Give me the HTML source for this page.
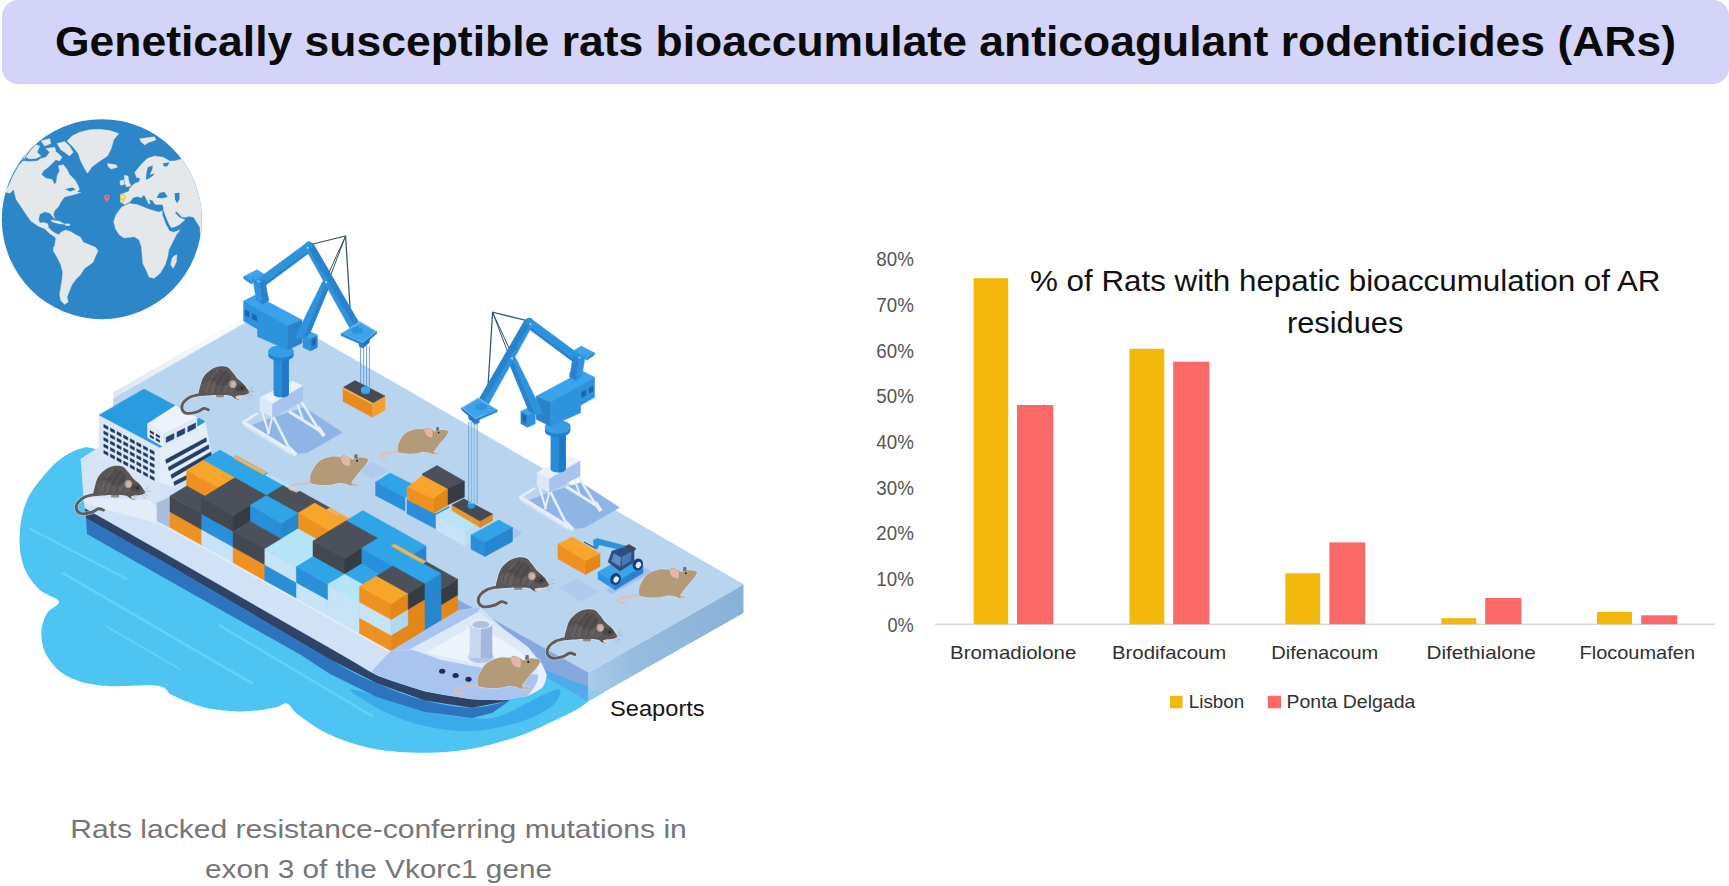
<!DOCTYPE html>
<html><head><meta charset="utf-8"><title>Graphical abstract</title>
<style>
html,body{margin:0;padding:0;background:#fff;}
body{width:1729px;height:886px;overflow:hidden;font-family:"Liberation Sans",sans-serif;}
svg{display:block;font-family:"Liberation Sans",sans-serif;}
</style></head><body>
<svg width="1729" height="886" viewBox="0 0 1729 886">
<rect x="2" y="0" width="1727" height="84" rx="16" ry="16" fill="#d3d4f7"/>
<text x="55.0" y="56.0" font-size="42.5" fill="#0a0a0a" font-weight="bold" text-anchor="start" textLength="1621.0" lengthAdjust="spacingAndGlyphs" >Genetically susceptible rats bioaccumulate anticoagulant rodenticides (ARs)</text>
<g>
<circle cx="101.8" cy="219.2" r="100" fill="#2c86c8"/>
<clipPath id="gc"><circle cx="101.8" cy="219.2" r="100"/></clipPath>
<g clip-path="url(#gc)"><g transform="translate(0,110) scale(0.24832)" fill="#e4e8ea" stroke="#e4e8ea" stroke-width="1.6" stroke-linejoin="round">
<polygon points="20.0,330.0 35.0,305.0 50.0,270.0 75.0,225.0 92.0,205.0 120.0,207.6 150.0,205.0 165.0,195.0 185.0,190.0 200.0,170.0 220.0,165.0 235.0,175.0 250.0,190.0 240.0,205.0 225.0,200.0 210.0,215.0 195.0,230.0 175.0,245.0 167.0,260.0 185.0,275.0 210.0,280.0 220.0,300.0 227.0,290.0 230.0,265.0 240.0,245.0 235.0,225.0 255.0,220.0 270.0,240.0 280.0,260.0 300.0,280.0 312.0,300.0 320.0,320.0 310.0,330.0 325.0,332.0 300.0,340.0 280.0,345.0 260.0,350.0 245.0,370.0 235.0,390.0 220.0,405.0 215.0,420.0 222.0,440.0 200.0,415.0 180.0,410.0 160.0,420.0 155.0,440.0 160.0,455.0 175.0,453.0 192.5,457.8 195.0,472.8 210.0,487.8 225.0,497.8 238.0,503.0 225.0,517.8 220.0,510.3 200.0,497.8 180.0,477.8 155.0,467.8 125.0,447.8 105.0,420.0 85.0,390.0 65.0,360.0 55.0,320.0 40.0,335.0"/>
<polygon points="105.0,190.0 125.0,160.0 145.0,140.0 160.0,145.0 150.0,170.0 165.0,185.0 145.0,195.0 120.0,197.0"/>
<polygon points="165.0,125.0 200.0,115.0 205.0,135.0 180.0,145.0"/>
<polygon points="185.0,155.0 220.0,150.0 225.0,165.0 200.0,170.0"/>
<polygon points="230.0,135.0 260.0,127.0 280.0,145.0 295.0,170.0 280.0,185.0 260.0,170.0 245.0,160.0"/>
<polygon points="95.0,200.0 112.0,170.0 122.0,150.0 105.0,170.0"/>
<polygon points="270.0,125.0 290.0,105.0 320.0,90.0 360.0,80.0 400.0,77.6 443.0,82.6 478.0,95.0 458.0,120.0 448.0,155.0 433.0,185.0 403.0,205.0 395.0,210.0 370.0,230.0 352.0,255.0 340.0,235.0 325.0,205.0 315.0,175.0 295.0,150.0"/>
<polygon points="432.7,215.5 467.7,220.5 472.7,230.5 447.7,238.0 435.2,228.0"/>
<polygon points="562.7,115.5 622.7,108.0 627.7,120.5 597.7,130.5 582.7,140.5 567.7,128.0"/>
<polygon points="205.0,442.8 240.0,447.8 260.0,460.3 235.0,457.8 210.0,450.3"/>
<polygon points="262.0,458.0 282.0,459.0 280.0,466.0 264.0,465.0"/>
<polygon points="220.0,547.8 225.0,517.8 245.0,492.8 265.0,482.8 285.0,490.3 305.0,502.8 325.0,512.8 335.0,532.8 360.0,542.8 385.0,552.8 395.0,567.8 385.0,587.8 375.0,612.8 355.0,627.8 340.0,637.8 325.0,662.8 305.0,682.8 290.0,702.8 280.0,727.8 270.0,752.8 275.0,772.8 260.0,782.8 245.0,767.8 240.0,742.8 245.0,712.8 250.0,682.8 252.5,652.8 245.0,622.8 230.0,592.8 215.0,567.8 215.0,552.8"/>
<polygon points="457.7,450.5 467.7,420.5 490.2,390.5 522.7,375.5 552.7,380.5 577.7,390.5 602.7,400.5 637.7,410.5 657.7,405.5 652.7,420.5 667.7,460.5 682.7,487.0 700.0,492.0 725.0,482.8 710.0,502.8 695.0,532.8 680.0,562.8 675.0,592.8 665.0,622.8 645.0,657.8 620.0,677.8 600.0,672.8 590.0,647.8 575.0,617.8 572.5,587.8 570.0,552.8 560.0,522.8 540.0,510.3 500.0,515.3 480.0,502.8 465.0,477.8"/>
<polygon points="700.0,587.8 712.5,582.8 710.0,612.8 697.5,637.8 687.5,622.8 692.5,597.8"/>
<polygon points="485.2,370.5 485.2,340.5 517.7,328.0 522.7,315.5 532.0,305.0 542.7,295.5 560.0,290.0 565.0,275.0 550.0,272.0 542.7,250.5 567.7,220.5 592.7,195.5 622.7,185.5 657.7,190.5 682.7,205.5 702.7,205.5 727.7,198.0 800.0,180.0 850.0,300.0 850.0,520.0 808.0,512.0 805.0,472.0 780.0,432.0 760.0,428.0 747.7,432.0 732.7,430.5 727.0,428.0 710.0,411.0 705.0,414.0 722.0,432.0 745.0,442.0 722.0,462.0 705.0,470.0 690.0,474.0 677.7,460.5 662.7,420.5 657.7,405.5 657.7,390.5 652.7,380.5 640.2,380.5 627.7,383.0 620.2,375.5 612.7,363.0 600.2,360.5 605.2,375.5 600.2,380.5 590.2,360.5 582.7,345.5 575.2,343.0 570.2,353.0 552.7,348.0 535.2,353.0 525.2,368.0 502.7,380.5"/>
<polygon points="500.2,263.0 515.2,265.5 520.2,290.5 527.7,305.5 510.2,310.5 502.7,295.5"/>
<polygon points="482.7,285.5 497.7,280.5 500.2,300.5 485.2,303.0"/>
</g>
<g transform="translate(0,110) scale(0.24832)" fill="#2c86c8">
<polygon points="595.2,230.5 615.2,223.0 612.7,240.5 602.7,260.5 622.7,255.5 617.7,263.0 600.2,275.5 587.7,280.5 590.2,250.5"/>
<polygon points="655.2,215.5 682.7,210.5 672.7,228.0 660.2,228.0"/>
<polygon points="630.2,353.0 642.7,333.0 662.7,330.5 675.2,350.5 652.7,355.5"/>
<polygon points="702.7,335.5 722.7,333.0 722.7,360.5 712.7,375.5 705.2,360.5"/>
<polygon points="522.0,373.0 540.0,356.0 556.0,352.0 572.0,357.0 580.0,349.0 590.0,365.0 600.0,385.0 607.0,379.0 603.0,364.0 614.0,366.0 622.0,380.0 640.0,385.0 655.0,385.0 658.0,400.0 640.0,408.0 602.0,398.0 578.0,388.0 552.0,378.0 530.0,377.0"/>
<path d="M656 406 L664 430 L678 462 L692 486" stroke="#2c86c8" stroke-width="6" fill="none"/>
<path d="M708 411 L728 431" stroke="#2c86c8" stroke-width="5" fill="none"/>
<polygon points="262.0,318.0 292.0,312.0 305.0,320.0 282.0,328.0"/>
</g></g>
<circle cx="106.8" cy="197.1" r="2.7" fill="#ee6f7d"/><path d="M104.6 198.6 L109 198.6 L106.8 203Z" fill="#ee6f7d"/><circle cx="106.8" cy="197" r="1.1" fill="#2c86c8"/>
<circle cx="123" cy="197.1" r="3.1" fill="#f1d24e"/><path d="M120.6 198.8 L125.4 198.8 L123 203.6Z" fill="#f1d24e"/><circle cx="123" cy="197" r="1.3" fill="#f7edc0"/>
</g>
<g id="port">
<path d="M86.0 447.0 C83.3 448.0 75.8 449.6 70.0 453.0 C64.2 456.4 58.2 459.8 51.1 467.5 C44.0 475.2 32.7 487.9 27.5 499.0 C22.3 510.1 20.3 523.2 19.7 534.4 C19.1 545.5 20.3 556.7 23.6 565.9 C26.9 575.1 33.4 583.6 39.3 589.5 C45.2 595.4 57.7 597.4 59.0 601.3 C60.3 605.2 50.2 607.8 47.2 613.0 C44.2 618.2 41.3 625.5 41.3 632.7 C41.3 639.9 42.9 649.1 47.2 656.3 C51.5 663.5 57.7 671.1 66.9 676.0 C76.1 680.9 87.2 684.2 102.3 685.8 C117.4 687.4 145.5 684.2 157.3 685.8 C169.1 687.4 165.1 692.0 173.0 695.6 C180.9 699.2 192.7 704.8 204.5 707.4 C216.3 710.0 232.0 711.4 243.8 711.4 C255.6 711.4 268.1 708.7 275.3 707.4 C282.5 706.1 283.2 702.2 287.1 703.5 C291.0 704.8 291.7 710.0 298.9 715.3 C306.1 720.5 317.9 729.4 330.4 735.0 C342.8 740.6 357.9 745.8 373.6 748.7 C389.3 751.7 408.4 752.7 424.8 752.7 C441.2 752.7 456.3 751.5 472.0 748.7 C487.7 745.9 504.3 741.2 519.2 736.0 C534.1 730.8 551.5 721.7 561.2 717.2 C570.9 712.7 573.0 711.6 577.5 709.0 C582.0 706.4 586.5 702.8 588.3 701.5 L588.3 660 L420 560 L200 470 Z" fill="#4dc4f2"/>
<defs><linearGradient id="pr" x1="587" y1="0" x2="745" y2="0" gradientUnits="userSpaceOnUse"><stop offset="0" stop-color="#abcbea"/><stop offset="0.3" stop-color="#97bce0"/><stop offset="1" stop-color="#89b0d6"/></linearGradient></defs>
<polygon points="430.0,582.0 588.3,672.5 588.3,701.0 430.0,610.5" fill="#86a8de" stroke="#86a8de" stroke-width="0.5" stroke-linejoin="round" />
<polygon points="536.0,667.0 588.3,687.0 588.3,701.0 538.0,672.5" fill="#45aeea" stroke="#45aeea" stroke-width="0.5" stroke-linejoin="round" opacity="0.85"/>
<polygon points="743.5,584.5 743.5,613.0 588.3,701.0 588.3,672.5" fill="url(#pr)" />
<polygon points="588.3,690.0 588.3,701.0 604.0,692.2" fill="#8ecbef" stroke="#8ecbef" stroke-width="0.5" stroke-linejoin="round" />
<defs><linearGradient id="pb" x1="113" y1="0" x2="215" y2="0" gradientUnits="userSpaceOnUse"><stop offset="0" stop-color="#dde6f1"/><stop offset="1" stop-color="#f7fafd"/></linearGradient></defs>
<polygon points="113.5,399.2 268.0,310.4 268.0,303.4 113.5,392.2" fill="url(#pb)" />
<polygon points="113.5,398.6 268.0,309.8 743.5,584.5 588.3,672.5 113.5,406.0" fill="#b9d4ef" stroke="#b9d4ef" stroke-width="0.5" stroke-linejoin="round" />
<polygon points="250.0,426.0 294.0,454.0 307.5,452.5 342.5,432.5 304.0,407.5 272.0,418.0" fill="#8fb4e6" stroke="#8fb4e6" stroke-width="0.5" stroke-linejoin="round" />
<polygon points="527.0,501.0 571.0,529.0 584.5,527.5 619.5,507.5 581.0,482.5 549.0,493.0" fill="#8fb4e6" stroke="#8fb4e6" stroke-width="0.5" stroke-linejoin="round" />
<polygon points="559.0,588.0 577.0,579.0 598.0,592.0 581.0,601.5" fill="#afcbec" stroke="#afcbec" stroke-width="0.5" stroke-linejoin="round" />
<polygon points="356.0,470.0 372.0,462.0 388.0,471.0 372.0,479.0" fill="#b1cbed" stroke="#b1cbed" stroke-width="0.5" stroke-linejoin="round" />
<path d="M377.0 696.0 C389.5 699.6 409.2 707.9 425.0 711.6 C440.8 715.3 459.5 717.3 472.0 718.0 C484.5 718.7 487.8 720.0 500.0 716.0 C512.2 712.0 535.0 698.3 545.0 694.0 C555.0 689.7 558.8 688.0 560.0 690.0 C561.2 692.0 558.7 700.7 552.0 706.0 C545.3 711.3 533.3 717.8 520.0 722.0 C506.7 726.2 487.8 730.3 472.0 731.0 C456.2 731.7 439.5 729.2 425.0 726.0 C410.5 722.8 397.5 718.0 385.0 712.0 C372.5 706.0 351.3 692.7 350.0 690.0 C348.7 687.3 364.5 692.4 377.0 696.0Z" fill="#38a9e9" opacity="0.9"/>
<line x1="30" y1="528.7" x2="126.6" y2="579" stroke="#66d6f9" stroke-width="2.2" stroke-linecap="round" opacity="0.85"/>
<line x1="63.3" y1="573.4" x2="251.7" y2="683.2" stroke="#66d6f9" stroke-width="2.6" stroke-linecap="round" opacity="0.85"/>
<line x1="108" y1="627.4" x2="180" y2="669" stroke="#66d6f9" stroke-width="2.0" stroke-linecap="round" opacity="0.85"/>
<line x1="219.7" y1="625.5" x2="372" y2="716" stroke="#66d6f9" stroke-width="2.4" stroke-linecap="round" opacity="0.85"/>
<line x1="150" y1="545" x2="200" y2="571" stroke="#66d6f9" stroke-width="1.6" stroke-linecap="round" opacity="0.85"/>
<path d="M86.0 518.0 C98.3 525.0 119.3 536.2 160.0 559.8 C200.7 583.4 293.8 638.9 330.0 659.5 C366.2 680.1 361.6 676.6 377.4 683.5 C393.2 690.4 409.0 696.6 424.8 700.6 C440.6 704.6 457.8 707.7 472.0 707.7 C486.2 707.7 503.7 701.8 510.0 700.6 L510.0 700.6 L492.0 713.0 L472.0 718.0 L425.0 712.0 L377.0 697.0 L330.0 674.0 L301.0 655.0 L160.0 575.5 L87.0 534.0 Z" fill="#2d73bd"/>
<path d="M85.0 508.0 C97.5 515.1 118.3 526.8 160.0 550.6 C201.7 574.4 298.8 630.0 335.0 650.8 C371.2 671.5 362.4 668.6 377.4 675.3 C392.4 682.0 409.0 687.0 424.8 691.0 C440.6 695.0 458.8 697.5 472.0 699.0 C485.2 700.5 498.5 699.7 503.8 699.8 L510.0 700.6 L472.0 707.7 L424.8 700.6 L377.4 683.5 L330.0 659.5 L160.0 559.8 L86.0 518.0 Z" fill="#2f4268"/>
<polygon points="81.0,459.0 99.0,447.5 236.0,487.0 457.5,610.7 480.0,607.5 503.8,629.5 527.5,646.9 541.7,664.0 546.4,675.3 541.7,688.0 527.5,695.8 503.8,699.8 503.8,699.8 472.0,699.0 424.8,691.0 377.4,675.3 335.0,650.8 160.0,550.6 85.0,508.0" fill="#d2e2f6" stroke="#d2e2f6" stroke-width="0.5" stroke-linejoin="round" />
<polygon points="84.0,497.0 150.0,500.0 170.0,527.5 391.0,651.0 412.0,650.0 400.0,658.0 160.0,524.0 84.0,503.0" fill="#e3edfa" stroke="#e3edfa" stroke-width="0.5" stroke-linejoin="round" />
<polygon points="81.0,459.0 99.0,447.5 99.0,458.0 160.0,481.0 160.0,500.0 84.0,497.0" fill="#d7e4f6" stroke="#d7e4f6" stroke-width="0.5" stroke-linejoin="round" />
<polygon points="157.0,503.0 170.0,497.0 170.0,527.5 157.0,521.0" fill="#a9bedc" stroke="#a9bedc" stroke-width="0.5" stroke-linejoin="round" />
<polygon points="99.0,415.0 160.0,447.5 160.0,483.0 99.0,458.0" fill="#dbe7f7" stroke="#dbe7f7" stroke-width="0.5" stroke-linejoin="round" />
<polygon points="160.0,447.5 205.0,421.5 211.0,452.0 176.0,487.0 160.0,483.0" fill="#e4edfa" stroke="#e4edfa" stroke-width="0.5" stroke-linejoin="round" />
<polygon points="165.5,459.8 206.1,437.7 206.7,441.3 166.4,463.4" fill="#243f66" stroke="#243f66" stroke-width="0.5" stroke-linejoin="round" />
<polygon points="168.2,467.2 208.5,444.8 209.1,448.4 169.1,470.8" fill="#243f66" stroke="#243f66" stroke-width="0.5" stroke-linejoin="round" />
<polygon points="170.9,474.8 210.9,451.9 211.5,455.5 171.8,478.4" fill="#243f66" stroke="#243f66" stroke-width="0.5" stroke-linejoin="round" />
<polygon points="173.7,481.9 196.0,470.5 196.6,474.1 174.6,485.5" fill="#243f66" stroke="#243f66" stroke-width="0.5" stroke-linejoin="round" />
<polygon points="103.8,424.5 108.0,426.7 108.0,429.5 103.8,427.3" fill="#20395e" stroke="#20395e" stroke-width="0.5" stroke-linejoin="round" />
<polygon points="110.4,428.1 114.6,430.2 114.6,433.1 110.4,430.9" fill="#20395e" stroke="#20395e" stroke-width="0.5" stroke-linejoin="round" />
<polygon points="117.0,431.6 121.2,433.8 121.2,436.6 117.0,434.4" fill="#20395e" stroke="#20395e" stroke-width="0.5" stroke-linejoin="round" />
<polygon points="123.6,435.1 127.8,437.3 127.8,440.1 123.6,437.9" fill="#20395e" stroke="#20395e" stroke-width="0.5" stroke-linejoin="round" />
<polygon points="130.2,438.7 134.4,440.9 134.4,443.7 130.2,441.5" fill="#20395e" stroke="#20395e" stroke-width="0.5" stroke-linejoin="round" />
<polygon points="136.8,442.2 141.0,444.4 141.0,447.2 136.8,445.1" fill="#20395e" stroke="#20395e" stroke-width="0.5" stroke-linejoin="round" />
<polygon points="143.4,445.8 147.6,448.0 147.6,450.8 143.4,448.6" fill="#20395e" stroke="#20395e" stroke-width="0.5" stroke-linejoin="round" />
<polygon points="150.0,449.4 154.2,451.6 154.2,454.4 150.0,452.2" fill="#20395e" stroke="#20395e" stroke-width="0.5" stroke-linejoin="round" />
<polygon points="103.8,431.0 108.0,433.2 108.0,436.0 103.8,433.8" fill="#20395e" stroke="#20395e" stroke-width="0.5" stroke-linejoin="round" />
<polygon points="110.4,434.6 114.6,436.8 114.6,439.6 110.4,437.4" fill="#20395e" stroke="#20395e" stroke-width="0.5" stroke-linejoin="round" />
<polygon points="117.0,438.1 121.2,440.3 121.2,443.1 117.0,440.9" fill="#20395e" stroke="#20395e" stroke-width="0.5" stroke-linejoin="round" />
<polygon points="123.6,441.6 127.8,443.8 127.8,446.6 123.6,444.4" fill="#20395e" stroke="#20395e" stroke-width="0.5" stroke-linejoin="round" />
<polygon points="130.2,445.2 134.4,447.4 134.4,450.2 130.2,448.0" fill="#20395e" stroke="#20395e" stroke-width="0.5" stroke-linejoin="round" />
<polygon points="136.8,448.8 141.0,450.9 141.0,453.8 136.8,451.6" fill="#20395e" stroke="#20395e" stroke-width="0.5" stroke-linejoin="round" />
<polygon points="143.4,452.3 147.6,454.5 147.6,457.3 143.4,455.1" fill="#20395e" stroke="#20395e" stroke-width="0.5" stroke-linejoin="round" />
<polygon points="150.0,455.9 154.2,458.1 154.2,460.9 150.0,458.7" fill="#20395e" stroke="#20395e" stroke-width="0.5" stroke-linejoin="round" />
<polygon points="103.8,437.5 108.0,439.7 108.0,442.5 103.8,440.3" fill="#20395e" stroke="#20395e" stroke-width="0.5" stroke-linejoin="round" />
<polygon points="110.4,441.1 114.6,443.2 114.6,446.1 110.4,443.9" fill="#20395e" stroke="#20395e" stroke-width="0.5" stroke-linejoin="round" />
<polygon points="117.0,444.6 121.2,446.8 121.2,449.6 117.0,447.4" fill="#20395e" stroke="#20395e" stroke-width="0.5" stroke-linejoin="round" />
<polygon points="123.6,448.1 127.8,450.3 127.8,453.1 123.6,450.9" fill="#20395e" stroke="#20395e" stroke-width="0.5" stroke-linejoin="round" />
<polygon points="130.2,451.7 134.4,453.9 134.4,456.7 130.2,454.5" fill="#20395e" stroke="#20395e" stroke-width="0.5" stroke-linejoin="round" />
<polygon points="136.8,455.2 141.0,457.4 141.0,460.2 136.8,458.1" fill="#20395e" stroke="#20395e" stroke-width="0.5" stroke-linejoin="round" />
<polygon points="143.4,458.8 147.6,461.0 147.6,463.8 143.4,461.6" fill="#20395e" stroke="#20395e" stroke-width="0.5" stroke-linejoin="round" />
<polygon points="150.0,462.4 154.2,464.6 154.2,467.4 150.0,465.2" fill="#20395e" stroke="#20395e" stroke-width="0.5" stroke-linejoin="round" />
<polygon points="103.8,444.0 108.0,446.2 108.0,449.0 103.8,446.8" fill="#20395e" stroke="#20395e" stroke-width="0.5" stroke-linejoin="round" />
<polygon points="110.4,447.6 114.6,449.8 114.6,452.6 110.4,450.4" fill="#20395e" stroke="#20395e" stroke-width="0.5" stroke-linejoin="round" />
<polygon points="117.0,451.1 121.2,453.3 121.2,456.1 117.0,453.9" fill="#20395e" stroke="#20395e" stroke-width="0.5" stroke-linejoin="round" />
<polygon points="123.6,454.6 127.8,456.8 127.8,459.6 123.6,457.4" fill="#20395e" stroke="#20395e" stroke-width="0.5" stroke-linejoin="round" />
<polygon points="130.2,458.2 134.4,460.4 134.4,463.2 130.2,461.0" fill="#20395e" stroke="#20395e" stroke-width="0.5" stroke-linejoin="round" />
<polygon points="136.8,461.8 141.0,463.9 141.0,466.8 136.8,464.6" fill="#20395e" stroke="#20395e" stroke-width="0.5" stroke-linejoin="round" />
<polygon points="143.4,465.3 147.6,467.5 147.6,470.3 143.4,468.1" fill="#20395e" stroke="#20395e" stroke-width="0.5" stroke-linejoin="round" />
<polygon points="150.0,468.9 154.2,471.1 154.2,473.9 150.0,471.7" fill="#20395e" stroke="#20395e" stroke-width="0.5" stroke-linejoin="round" />
<polygon points="103.8,450.5 108.0,452.7 108.0,455.5 103.8,453.3" fill="#20395e" stroke="#20395e" stroke-width="0.5" stroke-linejoin="round" />
<polygon points="110.4,454.1 114.6,456.2 114.6,459.1 110.4,456.9" fill="#20395e" stroke="#20395e" stroke-width="0.5" stroke-linejoin="round" />
<polygon points="117.0,457.6 121.2,459.8 121.2,462.6 117.0,460.4" fill="#20395e" stroke="#20395e" stroke-width="0.5" stroke-linejoin="round" />
<polygon points="123.6,461.1 127.8,463.3 127.8,466.1 123.6,463.9" fill="#20395e" stroke="#20395e" stroke-width="0.5" stroke-linejoin="round" />
<polygon points="130.2,464.7 134.4,466.9 134.4,469.7 130.2,467.5" fill="#20395e" stroke="#20395e" stroke-width="0.5" stroke-linejoin="round" />
<polygon points="136.8,468.2 141.0,470.4 141.0,473.2 136.8,471.1" fill="#20395e" stroke="#20395e" stroke-width="0.5" stroke-linejoin="round" />
<polygon points="143.4,471.8 147.6,474.0 147.6,476.8 143.4,474.6" fill="#20395e" stroke="#20395e" stroke-width="0.5" stroke-linejoin="round" />
<polygon points="150.0,475.4 154.2,477.6 154.2,480.4 150.0,478.2" fill="#20395e" stroke="#20395e" stroke-width="0.5" stroke-linejoin="round" />
<polygon points="99.0,415.0 144.0,389.0 205.0,421.5 160.0,447.5" fill="#2b9be0" stroke="#2b9be0" stroke-width="0.5" stroke-linejoin="round" />
<polygon points="147.5,423.8 175.6,405.6 197.5,417.5 164.4,433.8" fill="#edf3fb" stroke="#edf3fb" stroke-width="0.5" stroke-linejoin="round" />
<polygon points="147.5,423.8 164.4,433.8 164.4,447.5 147.5,437.5" fill="#e6eef9" stroke="#e6eef9" stroke-width="0.5" stroke-linejoin="round" />
<polygon points="164.4,433.8 197.5,417.5 197.5,431.0 164.4,447.5" fill="#dfe9f7" stroke="#dfe9f7" stroke-width="0.5" stroke-linejoin="round" />
<polygon points="166.2,437.3 174.0,433.5 174.0,438.7 166.2,442.5" fill="#27436f" stroke="#27436f" stroke-width="0.5" stroke-linejoin="round" />
<polygon points="177.0,432.0 184.8,428.2 184.8,433.4 177.0,437.2" fill="#27436f" stroke="#27436f" stroke-width="0.5" stroke-linejoin="round" />
<polygon points="187.8,426.7 195.6,422.9 195.6,428.1 187.8,431.9" fill="#27436f" stroke="#27436f" stroke-width="0.5" stroke-linejoin="round" />
<polygon points="150.0,430.5 153.6,432.5 153.6,434.5 150.0,432.5" fill="#20395e" stroke="#20395e" stroke-width="0.5" stroke-linejoin="round" />
<polygon points="156.0,433.9 159.6,435.9 159.6,437.9 156.0,435.9" fill="#20395e" stroke="#20395e" stroke-width="0.5" stroke-linejoin="round" />
<polygon points="150.0,434.9 153.6,436.9 153.6,438.9 150.0,436.9" fill="#20395e" stroke="#20395e" stroke-width="0.5" stroke-linejoin="round" />
<polygon points="156.0,438.3 159.6,440.3 159.6,442.3 156.0,440.3" fill="#20395e" stroke="#20395e" stroke-width="0.5" stroke-linejoin="round" />
<polygon points="197.5,419.0 204.0,422.5 197.5,426.0" fill="#2b9be0" stroke="#2b9be0" stroke-width="0.5" stroke-linejoin="round" />
<polygon points="219.8,497.2 251.4,514.9 251.4,499.2 219.8,481.5" fill="#2a8fd9" stroke="#2a8fd9" stroke-width="0.5" stroke-linejoin="round" />
<polygon points="251.4,514.9 268.0,504.8 268.0,489.1 251.4,499.2" fill="#2687cf" stroke="#2687cf" stroke-width="0.5" stroke-linejoin="round" />
<polygon points="219.8,481.5 251.4,499.1 251.4,483.4 219.8,465.8" fill="#2a8fd9" stroke="#2a8fd9" stroke-width="0.5" stroke-linejoin="round" />
<polygon points="251.4,499.1 268.0,489.0 268.0,473.3 251.4,483.4" fill="#2687cf" stroke="#2687cf" stroke-width="0.5" stroke-linejoin="round" />
<polygon points="219.8,465.8 251.4,483.4 268.0,473.3 236.4,455.7" fill="#2fa5e7" stroke="#2fa5e7" stroke-width="0.5" stroke-linejoin="round" />
<polygon points="251.4,514.9 283.0,532.5 283.0,516.8 251.4,499.2" fill="#2a8fd9" stroke="#2a8fd9" stroke-width="0.5" stroke-linejoin="round" />
<polygon points="283.0,532.5 299.6,522.4 299.6,506.7 283.0,516.8" fill="#2687cf" stroke="#2687cf" stroke-width="0.5" stroke-linejoin="round" />
<polygon points="251.4,499.2 283.0,516.8 283.0,501.1 251.4,483.5" fill="#c6e3f7" stroke="#c6e3f7" stroke-width="0.5" stroke-linejoin="round" />
<polygon points="283.0,516.8 299.6,506.7 299.6,491.0 283.0,501.1" fill="#b3d9f2" stroke="#b3d9f2" stroke-width="0.5" stroke-linejoin="round" />
<polygon points="251.4,483.5 283.0,501.1 299.6,491.0 268.0,473.4" fill="#b6e4f8" stroke="#b6e4f8" stroke-width="0.5" stroke-linejoin="round" />
<polygon points="283.0,532.5 314.6,550.1 314.6,534.4 283.0,516.8" fill="#c6e3f7" stroke="#c6e3f7" stroke-width="0.5" stroke-linejoin="round" />
<polygon points="314.6,550.1 331.2,540.0 331.2,524.3 314.6,534.4" fill="#b3d9f2" stroke="#b3d9f2" stroke-width="0.5" stroke-linejoin="round" />
<polygon points="283.0,516.8 314.6,534.4 314.6,518.7 283.0,501.1" fill="#434750" stroke="#434750" stroke-width="0.5" stroke-linejoin="round" />
<polygon points="314.6,534.4 331.2,524.3 331.2,508.6 314.6,518.7" fill="#373b44" stroke="#373b44" stroke-width="0.5" stroke-linejoin="round" />
<polygon points="283.0,501.1 314.6,518.7 331.2,508.6 299.6,491.0" fill="#4b505a" stroke="#4b505a" stroke-width="0.5" stroke-linejoin="round" />
<polygon points="314.6,550.2 346.2,567.8 346.2,552.1 314.6,534.5" fill="#2a8fd9" stroke="#2a8fd9" stroke-width="0.5" stroke-linejoin="round" />
<polygon points="346.2,567.8 362.8,557.7 362.8,542.0 346.2,552.1" fill="#2687cf" stroke="#2687cf" stroke-width="0.5" stroke-linejoin="round" />
<polygon points="314.6,534.5 346.2,552.1 346.2,536.4 314.6,518.8" fill="#ee9120" stroke="#ee9120" stroke-width="0.5" stroke-linejoin="round" />
<polygon points="346.2,552.1 362.8,542.0 362.8,526.3 346.2,536.4" fill="#e28718" stroke="#e28718" stroke-width="0.5" stroke-linejoin="round" />
<polygon points="314.6,518.8 346.2,536.4 362.8,526.3 331.2,508.7" fill="#f8a52c" stroke="#f8a52c" stroke-width="0.5" stroke-linejoin="round" />
<polygon points="346.2,567.8 377.8,585.5 377.8,569.8 346.2,552.1" fill="#434750" stroke="#434750" stroke-width="0.5" stroke-linejoin="round" />
<polygon points="377.8,585.5 394.4,575.4 394.4,559.6 377.8,569.8" fill="#373b44" stroke="#373b44" stroke-width="0.5" stroke-linejoin="round" />
<polygon points="346.2,552.1 377.8,569.8 377.8,554.0 346.2,536.4" fill="#c6e3f7" stroke="#c6e3f7" stroke-width="0.5" stroke-linejoin="round" />
<polygon points="377.8,569.8 394.4,559.6 394.4,543.9 377.8,554.0" fill="#b3d9f2" stroke="#b3d9f2" stroke-width="0.5" stroke-linejoin="round" />
<polygon points="346.2,536.4 377.8,554.1 377.8,538.4 346.2,520.7" fill="#2a8fd9" stroke="#2a8fd9" stroke-width="0.5" stroke-linejoin="round" />
<polygon points="377.8,554.1 394.4,544.0 394.4,528.2 377.8,538.4" fill="#2687cf" stroke="#2687cf" stroke-width="0.5" stroke-linejoin="round" />
<polygon points="346.2,520.7 377.8,538.4 394.4,528.2 362.8,510.6" fill="#2fa5e7" stroke="#2fa5e7" stroke-width="0.5" stroke-linejoin="round" />
<polygon points="377.8,585.5 409.4,603.1 409.4,587.4 377.8,569.8" fill="#ee9120" stroke="#ee9120" stroke-width="0.5" stroke-linejoin="round" />
<polygon points="409.4,603.1 426.0,593.0 426.0,577.3 409.4,587.4" fill="#e28718" stroke="#e28718" stroke-width="0.5" stroke-linejoin="round" />
<polygon points="377.8,569.8 409.4,587.4 409.4,571.7 377.8,554.0" fill="#2a8fd9" stroke="#2a8fd9" stroke-width="0.5" stroke-linejoin="round" />
<polygon points="409.4,587.4 426.0,577.3 426.0,561.6 409.4,571.7" fill="#2687cf" stroke="#2687cf" stroke-width="0.5" stroke-linejoin="round" />
<polygon points="377.8,554.1 409.4,571.7 409.4,556.0 377.8,538.4" fill="#2a8fd9" stroke="#2a8fd9" stroke-width="0.5" stroke-linejoin="round" />
<polygon points="409.4,571.7 426.0,561.6 426.0,545.9 409.4,556.0" fill="#2687cf" stroke="#2687cf" stroke-width="0.5" stroke-linejoin="round" />
<polygon points="377.8,538.4 409.4,556.0 426.0,545.9 394.4,528.2" fill="#2fa5e7" stroke="#2fa5e7" stroke-width="0.5" stroke-linejoin="round" />
<polygon points="409.4,603.1 441.0,620.8 441.0,605.0 409.4,587.4" fill="#ee9120" stroke="#ee9120" stroke-width="0.5" stroke-linejoin="round" />
<polygon points="441.0,620.8 457.6,610.6 457.6,594.9 441.0,605.0" fill="#e28718" stroke="#e28718" stroke-width="0.5" stroke-linejoin="round" />
<polygon points="409.4,587.4 441.0,605.0 441.0,589.3 409.4,571.7" fill="#434750" stroke="#434750" stroke-width="0.5" stroke-linejoin="round" />
<polygon points="441.0,605.0 457.6,594.9 457.6,579.2 441.0,589.3" fill="#373b44" stroke="#373b44" stroke-width="0.5" stroke-linejoin="round" />
<polygon points="409.4,571.7 441.0,589.3 457.6,579.2 426.0,561.6" fill="#4b505a" stroke="#4b505a" stroke-width="0.5" stroke-linejoin="round" />
<polygon points="203.2,507.3 234.8,525.0 234.8,509.3 203.2,491.6" fill="#c6e3f7" stroke="#c6e3f7" stroke-width="0.5" stroke-linejoin="round" />
<polygon points="234.8,525.0 251.4,514.9 251.4,499.2 234.8,509.3" fill="#b3d9f2" stroke="#b3d9f2" stroke-width="0.5" stroke-linejoin="round" />
<polygon points="203.2,491.6 234.8,509.2 234.8,493.6 203.2,475.9" fill="#2a8fd9" stroke="#2a8fd9" stroke-width="0.5" stroke-linejoin="round" />
<polygon points="234.8,509.2 251.4,499.1 251.4,483.4 234.8,493.6" fill="#2687cf" stroke="#2687cf" stroke-width="0.5" stroke-linejoin="round" />
<polygon points="203.2,475.9 234.8,493.6 234.8,477.9 203.2,460.2" fill="#2a8fd9" stroke="#2a8fd9" stroke-width="0.5" stroke-linejoin="round" />
<polygon points="234.8,493.6 251.4,483.4 251.4,467.8 234.8,477.9" fill="#2687cf" stroke="#2687cf" stroke-width="0.5" stroke-linejoin="round" />
<polygon points="203.2,460.2 234.8,477.9 251.4,467.8 219.8,450.1" fill="#2fa5e7" stroke="#2fa5e7" stroke-width="0.5" stroke-linejoin="round" />
<polygon points="234.8,524.9 266.4,542.6 266.4,526.9 234.8,509.2" fill="#434750" stroke="#434750" stroke-width="0.5" stroke-linejoin="round" />
<polygon points="266.4,542.6 283.0,532.5 283.0,516.8 266.4,526.9" fill="#373b44" stroke="#373b44" stroke-width="0.5" stroke-linejoin="round" />
<polygon points="234.8,509.2 266.4,526.9 266.4,511.2 234.8,493.5" fill="#c6e3f7" stroke="#c6e3f7" stroke-width="0.5" stroke-linejoin="round" />
<polygon points="266.4,526.9 283.0,516.8 283.0,501.1 266.4,511.2" fill="#b3d9f2" stroke="#b3d9f2" stroke-width="0.5" stroke-linejoin="round" />
<polygon points="234.8,493.5 266.4,511.2 266.4,495.5 234.8,477.8" fill="#2a8fd9" stroke="#2a8fd9" stroke-width="0.5" stroke-linejoin="round" />
<polygon points="266.4,511.2 283.0,501.1 283.0,485.4 266.4,495.5" fill="#2687cf" stroke="#2687cf" stroke-width="0.5" stroke-linejoin="round" />
<polygon points="234.8,477.8 266.4,495.5 283.0,485.4 251.4,467.7" fill="#2fa5e7" stroke="#2fa5e7" stroke-width="0.5" stroke-linejoin="round" />
<polygon points="266.4,542.6 298.0,560.2 298.0,544.5 266.4,526.9" fill="#2a8fd9" stroke="#2a8fd9" stroke-width="0.5" stroke-linejoin="round" />
<polygon points="298.0,560.2 314.6,550.1 314.6,534.4 298.0,544.5" fill="#2687cf" stroke="#2687cf" stroke-width="0.5" stroke-linejoin="round" />
<polygon points="266.4,526.9 298.0,544.5 298.0,528.8 266.4,511.2" fill="#ee9120" stroke="#ee9120" stroke-width="0.5" stroke-linejoin="round" />
<polygon points="298.0,544.5 314.6,534.4 314.6,518.7 298.0,528.8" fill="#e28718" stroke="#e28718" stroke-width="0.5" stroke-linejoin="round" />
<polygon points="266.4,511.2 298.0,528.8 298.0,513.1 266.4,495.5" fill="#434750" stroke="#434750" stroke-width="0.5" stroke-linejoin="round" />
<polygon points="298.0,528.8 314.6,518.7 314.6,503.0 298.0,513.1" fill="#373b44" stroke="#373b44" stroke-width="0.5" stroke-linejoin="round" />
<polygon points="266.4,495.5 298.0,513.1 314.6,503.0 283.0,485.4" fill="#4b505a" stroke="#4b505a" stroke-width="0.5" stroke-linejoin="round" />
<polygon points="298.0,560.2 329.6,577.9 329.6,562.2 298.0,544.5" fill="#434750" stroke="#434750" stroke-width="0.5" stroke-linejoin="round" />
<polygon points="329.6,577.9 346.2,567.8 346.2,552.1 329.6,562.2" fill="#373b44" stroke="#373b44" stroke-width="0.5" stroke-linejoin="round" />
<polygon points="298.0,544.5 329.6,562.2 329.6,546.5 298.0,528.8" fill="#2a8fd9" stroke="#2a8fd9" stroke-width="0.5" stroke-linejoin="round" />
<polygon points="329.6,562.2 346.2,552.1 346.2,536.4 329.6,546.5" fill="#2687cf" stroke="#2687cf" stroke-width="0.5" stroke-linejoin="round" />
<polygon points="298.0,528.9 329.6,546.5 329.6,530.8 298.0,513.1" fill="#ee9120" stroke="#ee9120" stroke-width="0.5" stroke-linejoin="round" />
<polygon points="329.6,546.5 346.2,536.4 346.2,520.7 329.6,530.8" fill="#e28718" stroke="#e28718" stroke-width="0.5" stroke-linejoin="round" />
<polygon points="298.0,513.1 329.6,530.8 346.2,520.7 314.6,503.1" fill="#f8a52c" stroke="#f8a52c" stroke-width="0.5" stroke-linejoin="round" />
<polygon points="329.6,577.9 361.2,595.5 361.2,579.8 329.6,562.2" fill="#ee9120" stroke="#ee9120" stroke-width="0.5" stroke-linejoin="round" />
<polygon points="361.2,595.5 377.8,585.4 377.8,569.7 361.2,579.8" fill="#e28718" stroke="#e28718" stroke-width="0.5" stroke-linejoin="round" />
<polygon points="329.6,562.2 361.2,579.8 361.2,564.1 329.6,546.5" fill="#2a8fd9" stroke="#2a8fd9" stroke-width="0.5" stroke-linejoin="round" />
<polygon points="361.2,579.8 377.8,569.7 377.8,554.0 361.2,564.1" fill="#2687cf" stroke="#2687cf" stroke-width="0.5" stroke-linejoin="round" />
<polygon points="329.6,546.5 361.2,564.1 361.2,548.4 329.6,530.8" fill="#434750" stroke="#434750" stroke-width="0.5" stroke-linejoin="round" />
<polygon points="361.2,564.1 377.8,554.0 377.8,538.3 361.2,548.4" fill="#373b44" stroke="#373b44" stroke-width="0.5" stroke-linejoin="round" />
<polygon points="329.6,530.8 361.2,548.4 377.8,538.3 346.2,520.7" fill="#4b505a" stroke="#4b505a" stroke-width="0.5" stroke-linejoin="round" />
<polygon points="361.2,595.5 392.8,613.2 392.8,597.5 361.2,579.8" fill="#c6e3f7" stroke="#c6e3f7" stroke-width="0.5" stroke-linejoin="round" />
<polygon points="392.8,613.2 409.4,603.1 409.4,587.4 392.8,597.5" fill="#b3d9f2" stroke="#b3d9f2" stroke-width="0.5" stroke-linejoin="round" />
<polygon points="361.2,579.8 392.8,597.5 392.8,581.8 361.2,564.1" fill="#c6e3f7" stroke="#c6e3f7" stroke-width="0.5" stroke-linejoin="round" />
<polygon points="392.8,597.5 409.4,587.4 409.4,571.7 392.8,581.8" fill="#b3d9f2" stroke="#b3d9f2" stroke-width="0.5" stroke-linejoin="round" />
<polygon points="361.2,564.1 392.8,581.8 392.8,566.1 361.2,548.4" fill="#2a8fd9" stroke="#2a8fd9" stroke-width="0.5" stroke-linejoin="round" />
<polygon points="392.8,581.8 409.4,571.7 409.4,556.0 392.8,566.1" fill="#2687cf" stroke="#2687cf" stroke-width="0.5" stroke-linejoin="round" />
<polygon points="361.2,548.4 392.8,566.1 409.4,556.0 377.8,538.3" fill="#2fa5e7" stroke="#2fa5e7" stroke-width="0.5" stroke-linejoin="round" />
<polygon points="392.8,613.2 424.4,630.8 424.4,615.1 392.8,597.5" fill="#2a8fd9" stroke="#2a8fd9" stroke-width="0.5" stroke-linejoin="round" />
<polygon points="424.4,630.8 441.0,620.7 441.0,605.0 424.4,615.1" fill="#2687cf" stroke="#2687cf" stroke-width="0.5" stroke-linejoin="round" />
<polygon points="392.8,597.5 424.4,615.1 424.4,599.4 392.8,581.8" fill="#2a8fd9" stroke="#2a8fd9" stroke-width="0.5" stroke-linejoin="round" />
<polygon points="424.4,615.1 441.0,605.0 441.0,589.3 424.4,599.4" fill="#2687cf" stroke="#2687cf" stroke-width="0.5" stroke-linejoin="round" />
<polygon points="392.8,581.8 424.4,599.4 424.4,583.7 392.8,566.1" fill="#2a8fd9" stroke="#2a8fd9" stroke-width="0.5" stroke-linejoin="round" />
<polygon points="424.4,599.4 441.0,589.3 441.0,573.6 424.4,583.7" fill="#2687cf" stroke="#2687cf" stroke-width="0.5" stroke-linejoin="round" />
<polygon points="392.8,566.1 424.4,583.7 441.0,573.6 409.4,556.0" fill="#2fa5e7" stroke="#2fa5e7" stroke-width="0.5" stroke-linejoin="round" />
<polygon points="186.6,517.4 218.2,535.0 218.2,519.3 186.6,501.7" fill="#2a8fd9" stroke="#2a8fd9" stroke-width="0.5" stroke-linejoin="round" />
<polygon points="218.2,535.0 234.8,524.9 234.8,509.2 218.2,519.3" fill="#2687cf" stroke="#2687cf" stroke-width="0.5" stroke-linejoin="round" />
<polygon points="186.6,501.7 218.2,519.4 218.2,503.7 186.6,486.0" fill="#434750" stroke="#434750" stroke-width="0.5" stroke-linejoin="round" />
<polygon points="218.2,519.4 234.8,509.2 234.8,493.6 218.2,503.7" fill="#373b44" stroke="#373b44" stroke-width="0.5" stroke-linejoin="round" />
<polygon points="186.6,486.0 218.2,503.6 218.2,487.9 186.6,470.3" fill="#ee9120" stroke="#ee9120" stroke-width="0.5" stroke-linejoin="round" />
<polygon points="218.2,503.6 234.8,493.5 234.8,477.8 218.2,487.9" fill="#e28718" stroke="#e28718" stroke-width="0.5" stroke-linejoin="round" />
<polygon points="186.6,470.3 218.2,487.9 234.8,477.8 203.2,460.2" fill="#f8a52c" stroke="#f8a52c" stroke-width="0.5" stroke-linejoin="round" />
<polygon points="218.2,535.0 249.8,552.7 249.8,537.0 218.2,519.3" fill="#ee9120" stroke="#ee9120" stroke-width="0.5" stroke-linejoin="round" />
<polygon points="249.8,552.7 266.4,542.6 266.4,526.9 249.8,537.0" fill="#e28718" stroke="#e28718" stroke-width="0.5" stroke-linejoin="round" />
<polygon points="218.2,519.3 249.8,537.0 249.8,521.3 218.2,503.6" fill="#2a8fd9" stroke="#2a8fd9" stroke-width="0.5" stroke-linejoin="round" />
<polygon points="249.8,537.0 266.4,526.9 266.4,511.2 249.8,521.3" fill="#2687cf" stroke="#2687cf" stroke-width="0.5" stroke-linejoin="round" />
<polygon points="218.2,503.6 249.8,521.3 249.8,505.6 218.2,487.9" fill="#434750" stroke="#434750" stroke-width="0.5" stroke-linejoin="round" />
<polygon points="249.8,521.3 266.4,511.2 266.4,495.5 249.8,505.6" fill="#373b44" stroke="#373b44" stroke-width="0.5" stroke-linejoin="round" />
<polygon points="218.2,487.9 249.8,505.6 266.4,495.5 234.8,477.8" fill="#4b505a" stroke="#4b505a" stroke-width="0.5" stroke-linejoin="round" />
<polygon points="249.8,552.7 281.4,570.3 281.4,554.6 249.8,537.0" fill="#434750" stroke="#434750" stroke-width="0.5" stroke-linejoin="round" />
<polygon points="281.4,570.3 298.0,560.2 298.0,544.5 281.4,554.6" fill="#373b44" stroke="#373b44" stroke-width="0.5" stroke-linejoin="round" />
<polygon points="249.8,537.0 281.4,554.6 281.4,538.9 249.8,521.3" fill="#c6e3f7" stroke="#c6e3f7" stroke-width="0.5" stroke-linejoin="round" />
<polygon points="281.4,554.6 298.0,544.5 298.0,528.8 281.4,538.9" fill="#b3d9f2" stroke="#b3d9f2" stroke-width="0.5" stroke-linejoin="round" />
<polygon points="249.8,521.3 281.4,538.9 281.4,523.2 249.8,505.6" fill="#2a8fd9" stroke="#2a8fd9" stroke-width="0.5" stroke-linejoin="round" />
<polygon points="281.4,538.9 298.0,528.8 298.0,513.1 281.4,523.2" fill="#2687cf" stroke="#2687cf" stroke-width="0.5" stroke-linejoin="round" />
<polygon points="249.8,505.6 281.4,523.2 298.0,513.1 266.4,495.5" fill="#2fa5e7" stroke="#2fa5e7" stroke-width="0.5" stroke-linejoin="round" />
<polygon points="281.4,570.4 313.0,588.0 313.0,572.3 281.4,554.6" fill="#2a8fd9" stroke="#2a8fd9" stroke-width="0.5" stroke-linejoin="round" />
<polygon points="313.0,588.0 329.6,577.9 329.6,562.2 313.0,572.3" fill="#2687cf" stroke="#2687cf" stroke-width="0.5" stroke-linejoin="round" />
<polygon points="281.4,554.6 313.0,572.3 313.0,556.6 281.4,538.9" fill="#c6e3f7" stroke="#c6e3f7" stroke-width="0.5" stroke-linejoin="round" />
<polygon points="313.0,572.3 329.6,562.2 329.6,546.5 313.0,556.6" fill="#b3d9f2" stroke="#b3d9f2" stroke-width="0.5" stroke-linejoin="round" />
<polygon points="281.4,538.9 313.0,556.6 329.6,546.5 298.0,528.8" fill="#b6e4f8" stroke="#b6e4f8" stroke-width="0.5" stroke-linejoin="round" />
<polygon points="313.0,588.0 344.6,605.6 344.6,589.9 313.0,572.3" fill="#c6e3f7" stroke="#c6e3f7" stroke-width="0.5" stroke-linejoin="round" />
<polygon points="344.6,605.6 361.2,595.5 361.2,579.8 344.6,589.9" fill="#b3d9f2" stroke="#b3d9f2" stroke-width="0.5" stroke-linejoin="round" />
<polygon points="313.0,572.3 344.6,589.9 344.6,574.2 313.0,556.6" fill="#2a8fd9" stroke="#2a8fd9" stroke-width="0.5" stroke-linejoin="round" />
<polygon points="344.6,589.9 361.2,579.8 361.2,564.1 344.6,574.2" fill="#2687cf" stroke="#2687cf" stroke-width="0.5" stroke-linejoin="round" />
<polygon points="313.0,556.6 344.6,574.2 344.6,558.5 313.0,540.9" fill="#434750" stroke="#434750" stroke-width="0.5" stroke-linejoin="round" />
<polygon points="344.6,574.2 361.2,564.1 361.2,548.4 344.6,558.5" fill="#373b44" stroke="#373b44" stroke-width="0.5" stroke-linejoin="round" />
<polygon points="313.0,540.9 344.6,558.5 361.2,548.4 329.6,530.8" fill="#4b505a" stroke="#4b505a" stroke-width="0.5" stroke-linejoin="round" />
<polygon points="344.6,605.6 376.2,623.3 376.2,607.6 344.6,589.9" fill="#c6e3f7" stroke="#c6e3f7" stroke-width="0.5" stroke-linejoin="round" />
<polygon points="376.2,623.3 392.8,613.2 392.8,597.5 376.2,607.6" fill="#b3d9f2" stroke="#b3d9f2" stroke-width="0.5" stroke-linejoin="round" />
<polygon points="344.6,589.9 376.2,607.6 376.2,591.9 344.6,574.2" fill="#2a8fd9" stroke="#2a8fd9" stroke-width="0.5" stroke-linejoin="round" />
<polygon points="376.2,607.6 392.8,597.5 392.8,581.8 376.2,591.9" fill="#2687cf" stroke="#2687cf" stroke-width="0.5" stroke-linejoin="round" />
<polygon points="344.6,574.2 376.2,591.9 392.8,581.8 361.2,564.1" fill="#2fa5e7" stroke="#2fa5e7" stroke-width="0.5" stroke-linejoin="round" />
<polygon points="376.2,623.3 407.8,640.9 407.8,625.2 376.2,607.6" fill="#ee9120" stroke="#ee9120" stroke-width="0.5" stroke-linejoin="round" />
<polygon points="407.8,640.9 424.4,630.8 424.4,615.1 407.8,625.2" fill="#e28718" stroke="#e28718" stroke-width="0.5" stroke-linejoin="round" />
<polygon points="376.2,607.6 407.8,625.2 407.8,609.5 376.2,591.9" fill="#ee9120" stroke="#ee9120" stroke-width="0.5" stroke-linejoin="round" />
<polygon points="407.8,625.2 424.4,615.1 424.4,599.4 407.8,609.5" fill="#e28718" stroke="#e28718" stroke-width="0.5" stroke-linejoin="round" />
<polygon points="376.2,591.9 407.8,609.5 407.8,593.8 376.2,576.2" fill="#434750" stroke="#434750" stroke-width="0.5" stroke-linejoin="round" />
<polygon points="407.8,609.5 424.4,599.4 424.4,583.7 407.8,593.8" fill="#373b44" stroke="#373b44" stroke-width="0.5" stroke-linejoin="round" />
<polygon points="376.2,576.2 407.8,593.8 424.4,583.7 392.8,566.1" fill="#4b505a" stroke="#4b505a" stroke-width="0.5" stroke-linejoin="round" />
<polygon points="170.0,527.5 201.6,545.1 201.6,529.4 170.0,511.8" fill="#ee9120" stroke="#ee9120" stroke-width="0.5" stroke-linejoin="round" />
<polygon points="201.6,545.1 218.2,535.0 218.2,519.3 201.6,529.4" fill="#e28718" stroke="#e28718" stroke-width="0.5" stroke-linejoin="round" />
<polygon points="170.0,511.8 201.6,529.5 201.6,513.8 170.0,496.1" fill="#434750" stroke="#434750" stroke-width="0.5" stroke-linejoin="round" />
<polygon points="201.6,529.5 218.2,519.4 218.2,503.7 201.6,513.8" fill="#373b44" stroke="#373b44" stroke-width="0.5" stroke-linejoin="round" />
<polygon points="170.0,496.1 201.6,513.8 218.2,503.7 186.6,486.0" fill="#4b505a" stroke="#4b505a" stroke-width="0.5" stroke-linejoin="round" />
<polygon points="201.6,545.1 233.2,562.8 233.2,547.1 201.6,529.4" fill="#c6e3f7" stroke="#c6e3f7" stroke-width="0.5" stroke-linejoin="round" />
<polygon points="233.2,562.8 249.8,552.7 249.8,537.0 233.2,547.1" fill="#b3d9f2" stroke="#b3d9f2" stroke-width="0.5" stroke-linejoin="round" />
<polygon points="201.6,529.4 233.2,547.1 233.2,531.4 201.6,513.7" fill="#2a8fd9" stroke="#2a8fd9" stroke-width="0.5" stroke-linejoin="round" />
<polygon points="233.2,547.1 249.8,537.0 249.8,521.3 233.2,531.4" fill="#2687cf" stroke="#2687cf" stroke-width="0.5" stroke-linejoin="round" />
<polygon points="201.6,513.8 233.2,531.4 233.2,515.7 201.6,498.1" fill="#434750" stroke="#434750" stroke-width="0.5" stroke-linejoin="round" />
<polygon points="233.2,531.4 249.8,521.3 249.8,505.6 233.2,515.7" fill="#373b44" stroke="#373b44" stroke-width="0.5" stroke-linejoin="round" />
<polygon points="201.6,498.1 233.2,515.7 249.8,505.6 218.2,487.9" fill="#4b505a" stroke="#4b505a" stroke-width="0.5" stroke-linejoin="round" />
<polygon points="233.2,562.8 264.8,580.4 264.8,564.7 233.2,547.1" fill="#ee9120" stroke="#ee9120" stroke-width="0.5" stroke-linejoin="round" />
<polygon points="264.8,580.4 281.4,570.3 281.4,554.6 264.8,564.7" fill="#e28718" stroke="#e28718" stroke-width="0.5" stroke-linejoin="round" />
<polygon points="233.2,547.1 264.8,564.7 264.8,549.0 233.2,531.4" fill="#434750" stroke="#434750" stroke-width="0.5" stroke-linejoin="round" />
<polygon points="264.8,564.7 281.4,554.6 281.4,538.9 264.8,549.0" fill="#373b44" stroke="#373b44" stroke-width="0.5" stroke-linejoin="round" />
<polygon points="233.2,531.4 264.8,549.0 281.4,538.9 249.8,521.3" fill="#4b505a" stroke="#4b505a" stroke-width="0.5" stroke-linejoin="round" />
<polygon points="264.8,580.5 296.4,598.1 296.4,582.4 264.8,564.8" fill="#2a8fd9" stroke="#2a8fd9" stroke-width="0.5" stroke-linejoin="round" />
<polygon points="296.4,598.1 313.0,588.0 313.0,572.3 296.4,582.4" fill="#2687cf" stroke="#2687cf" stroke-width="0.5" stroke-linejoin="round" />
<polygon points="264.8,564.8 296.4,582.4 296.4,566.7 264.8,549.0" fill="#c6e3f7" stroke="#c6e3f7" stroke-width="0.5" stroke-linejoin="round" />
<polygon points="296.4,582.4 313.0,572.3 313.0,556.6 296.4,566.7" fill="#b3d9f2" stroke="#b3d9f2" stroke-width="0.5" stroke-linejoin="round" />
<polygon points="264.8,549.0 296.4,566.7 313.0,556.6 281.4,538.9" fill="#b6e4f8" stroke="#b6e4f8" stroke-width="0.5" stroke-linejoin="round" />
<polygon points="296.4,598.1 328.0,615.8 328.0,600.0 296.4,582.4" fill="#c6e3f7" stroke="#c6e3f7" stroke-width="0.5" stroke-linejoin="round" />
<polygon points="328.0,615.8 344.6,605.6 344.6,589.9 328.0,600.0" fill="#b3d9f2" stroke="#b3d9f2" stroke-width="0.5" stroke-linejoin="round" />
<polygon points="296.4,582.4 328.0,600.0 328.0,584.3 296.4,566.7" fill="#2a8fd9" stroke="#2a8fd9" stroke-width="0.5" stroke-linejoin="round" />
<polygon points="328.0,600.0 344.6,589.9 344.6,574.2 328.0,584.3" fill="#2687cf" stroke="#2687cf" stroke-width="0.5" stroke-linejoin="round" />
<polygon points="296.4,566.7 328.0,584.3 344.6,574.2 313.0,556.6" fill="#2fa5e7" stroke="#2fa5e7" stroke-width="0.5" stroke-linejoin="round" />
<polygon points="328.0,615.8 359.6,633.4 359.6,617.7 328.0,600.0" fill="#c6e3f7" stroke="#c6e3f7" stroke-width="0.5" stroke-linejoin="round" />
<polygon points="359.6,633.4 376.2,623.3 376.2,607.6 359.6,617.7" fill="#b3d9f2" stroke="#b3d9f2" stroke-width="0.5" stroke-linejoin="round" />
<polygon points="328.0,600.0 359.6,617.7 359.6,602.0 328.0,584.3" fill="#c6e3f7" stroke="#c6e3f7" stroke-width="0.5" stroke-linejoin="round" />
<polygon points="359.6,617.7 376.2,607.6 376.2,591.9 359.6,602.0" fill="#b3d9f2" stroke="#b3d9f2" stroke-width="0.5" stroke-linejoin="round" />
<polygon points="328.0,584.3 359.6,602.0 376.2,591.9 344.6,574.2" fill="#b6e4f8" stroke="#b6e4f8" stroke-width="0.5" stroke-linejoin="round" />
<polygon points="359.6,633.4 391.2,651.0 391.2,635.3 359.6,617.7" fill="#ee9120" stroke="#ee9120" stroke-width="0.5" stroke-linejoin="round" />
<polygon points="391.2,651.0 407.8,640.9 407.8,625.2 391.2,635.3" fill="#e28718" stroke="#e28718" stroke-width="0.5" stroke-linejoin="round" />
<polygon points="359.6,617.7 391.2,635.3 391.2,619.6 359.6,602.0" fill="#c6e3f7" stroke="#c6e3f7" stroke-width="0.5" stroke-linejoin="round" />
<polygon points="391.2,635.3 407.8,625.2 407.8,609.5 391.2,619.6" fill="#b3d9f2" stroke="#b3d9f2" stroke-width="0.5" stroke-linejoin="round" />
<polygon points="359.6,602.0 391.2,619.6 391.2,603.9 359.6,586.3" fill="#ee9120" stroke="#ee9120" stroke-width="0.5" stroke-linejoin="round" />
<polygon points="391.2,619.6 407.8,609.5 407.8,593.8 391.2,603.9" fill="#e28718" stroke="#e28718" stroke-width="0.5" stroke-linejoin="round" />
<polygon points="359.6,586.3 391.2,603.9 407.8,593.8 376.2,576.2" fill="#f8a52c" stroke="#f8a52c" stroke-width="0.5" stroke-linejoin="round" />
<polygon points="236.4,455.7 266.4,472.5 263.2,474.5 233.2,457.7" fill="#eeb35a" stroke="#eeb35a" stroke-width="0.5" stroke-linejoin="round" />
<polygon points="329.6,507.8 340.7,513.9 337.5,515.9 326.4,509.8" fill="#eeb35a" stroke="#eeb35a" stroke-width="0.5" stroke-linejoin="round" />
<polygon points="394.4,544.0 426.0,561.6 422.8,563.6 391.2,546.0" fill="#eeb35a" stroke="#eeb35a" stroke-width="0.5" stroke-linejoin="round" />
<polygon points="391.0,651.0 457.5,610.7 480.0,607.5 477.5,612.5 411.3,648.8" fill="#a9c4ee" stroke="#a9c4ee" stroke-width="0.5" stroke-linejoin="round" />
<polygon points="391.0,651.0 412.0,650.0 440.6,659.5 472.0,665.8 510.0,672.0 546.4,675.3 541.7,688.0 527.5,695.8 503.8,699.8 472.0,699.0 424.8,691.0 377.4,675.3 372.0,671.0" fill="#a9c4ee" stroke="#a9c4ee" stroke-width="0.5" stroke-linejoin="round" />
<polygon points="411.3,648.8 477.5,612.5 503.8,629.5 527.5,646.9 541.7,664.0 546.4,675.3 510.0,672.0 472.0,665.8 440.6,659.5" fill="#dde8f8" stroke="#dde8f8" stroke-width="0.5" stroke-linejoin="round" />
<polygon points="427.0,652.5 476.3,624.0 520.0,652.0 534.0,668.0 508.0,668.0 472.0,662.0 446.0,657.0" fill="#eef4fc" stroke="#eef4fc" stroke-width="0.5" stroke-linejoin="round" />
<path d="M524 648 Q542 662 546.4 675.3 Q546 684 541.7 688 Q535 693 527.5 695.8 Q540 682 538 672 Q534 660 524 648Z" fill="#e9f0fa"/>
<ellipse cx="481" cy="657.5" rx="13.5" ry="6" fill="#c9d8f0"/>
<rect x="469.8" y="624" width="11" height="34" fill="#c9d7ef"/>
<rect x="480.8" y="624" width="11.4" height="34" fill="#a4b8df"/>
<ellipse cx="481" cy="658" rx="11.2" ry="4.6" fill="#b3c5e6"/>
<rect x="469.8" y="640" width="11" height="18" fill="#c9d7ef"/>
<rect x="480.8" y="640" width="11.4" height="18" fill="#a4b8df"/>
<ellipse cx="481" cy="624" rx="11.2" ry="5" fill="#e6edf8"/>
<ellipse cx="481" cy="624.6" rx="8.6" ry="3.6" fill="#afc0e1"/>
<ellipse cx="442.2" cy="671.3" rx="3.1" ry="2.5" fill="#1b2f5e"/>
<ellipse cx="455.6" cy="675.6" rx="3.1" ry="2.5" fill="#1b2f5e"/>
<ellipse cx="468.5" cy="679.2" rx="3.1" ry="2.5" fill="#1b2f5e"/>
<polygon points="375.6,482.0 390.0,473.0 422.0,489.0 405.0,497.5" fill="#2fa5e7" stroke="#2fa5e7" stroke-width="0.5" stroke-linejoin="round" />
<polygon points="375.6,482.0 405.0,497.5 405.0,511.0 375.6,495.5" fill="#2a8fd9" stroke="#2a8fd9" stroke-width="0.5" stroke-linejoin="round" />
<polygon points="422.5,473.8 437.0,465.6 464.4,481.2 447.5,489.0" fill="#4b505a" stroke="#4b505a" stroke-width="0.5" stroke-linejoin="round" />
<polygon points="447.5,489.0 464.4,481.2 464.4,497.0 447.5,505.0" fill="#373b44" stroke="#373b44" stroke-width="0.5" stroke-linejoin="round" />
<polygon points="422.5,473.8 447.5,489.0 447.5,505.0 422.5,490.0" fill="#434750" stroke="#434750" stroke-width="0.5" stroke-linejoin="round" />
<polygon points="407.0,499.0 435.6,513.8 435.6,528.8 407.0,513.8" fill="#2a8fd9" stroke="#2a8fd9" stroke-width="0.5" stroke-linejoin="round" />
<polygon points="435.6,513.8 449.0,506.5 449.0,521.0 435.6,528.8" fill="#2687cf" stroke="#2687cf" stroke-width="0.5" stroke-linejoin="round" />
<polygon points="407.0,487.5 422.5,475.6 447.5,489.0 433.8,499.2" fill="#f8a52c" stroke="#f8a52c" stroke-width="0.5" stroke-linejoin="round" />
<polygon points="407.0,487.5 433.8,499.2 433.8,513.0 407.0,499.5" fill="#ee9120" stroke="#ee9120" stroke-width="0.5" stroke-linejoin="round" />
<polygon points="433.8,499.2 447.5,489.0 447.5,505.5 433.8,513.0" fill="#e28718" stroke="#e28718" stroke-width="0.5" stroke-linejoin="round" />
<polygon points="436.0,515.0 450.0,507.5 478.8,522.5 465.0,531.0" fill="#b6e4f8" stroke="#b6e4f8" stroke-width="0.5" stroke-linejoin="round" />
<polygon points="436.0,515.0 465.0,531.0 465.0,546.0 436.0,530.0" fill="#c6e3f7" stroke="#c6e3f7" stroke-width="0.5" stroke-linejoin="round" />
<polygon points="465.0,531.0 478.8,522.5 478.8,537.5 465.0,546.0" fill="#b9dcf3" stroke="#b9dcf3" stroke-width="0.5" stroke-linejoin="round" />
<polygon points="452.0,505.0 480.0,521.0 480.0,527.5 452.0,510.5" fill="#e9962a" stroke="#e9962a" stroke-width="0.5" stroke-linejoin="round" />
<polygon points="480.0,521.0 492.5,514.0 492.5,520.5 480.0,527.5" fill="#d98a22" stroke="#d98a22" stroke-width="0.5" stroke-linejoin="round" />
<polygon points="452.0,505.0 463.8,498.8 492.5,514.0 480.0,521.0" fill="#454a54" stroke="#454a54" stroke-width="0.5" stroke-linejoin="round" />
<ellipse cx="471.3" cy="505.8" rx="3.8" ry="2.9" fill="#2b96de"/>
<polygon points="471.0,549.0 512.5,527.5 522.0,533.0 485.0,556.5" fill="#a9c4ec" stroke="#a9c4ec" stroke-width="0.5" stroke-linejoin="round" />
<polygon points="471.0,535.0 498.8,520.0 512.5,527.5 485.0,542.5" fill="#2fa5e7" stroke="#2fa5e7" stroke-width="0.5" stroke-linejoin="round" />
<polygon points="471.0,535.0 485.0,542.5 485.0,556.5 471.0,549.0" fill="#2a8fd9" stroke="#2a8fd9" stroke-width="0.5" stroke-linejoin="round" />
<polygon points="485.0,542.5 512.5,527.5 512.5,541.5 485.0,556.5" fill="#2687cf" stroke="#2687cf" stroke-width="0.5" stroke-linejoin="round" />
<g transform="translate(0,0)">
<polyline points="289.0,411.5 322.5,432.5" fill="none" stroke="#e6eefa" stroke-width="3.2" />
<polyline points="318.0,427.0 324.0,436.0" fill="none" stroke="#e6eefa" stroke-width="4" />
<polyline points="297.0,403.0 303.0,420.0" fill="none" stroke="#e6eefa" stroke-width="2.2" />
<polyline points="301.0,401.0 318.0,428.5" fill="none" stroke="#e6eefa" stroke-width="2.4" />
<polyline points="243.0,422.0 292.0,452.0" fill="none" stroke="#e6eefa" stroke-width="3.6" />
<polyline points="243.5,425.0 291.0,454.5" fill="none" stroke="#d7e3f6" stroke-width="1.6" />
<polyline points="288.0,447.0 296.0,455.0" fill="none" stroke="#e6eefa" stroke-width="4.5" />
<polyline points="242.5,422.5 258.0,413.0" fill="none" stroke="#e6eefa" stroke-width="2.6" />
<polyline points="262.0,411.0 269.0,434.0" fill="none" stroke="#e6eefa" stroke-width="2.2" />
<polyline points="272.5,416.0 268.0,434.5" fill="none" stroke="#e6eefa" stroke-width="2.0" />
<polyline points="273.0,416.0 289.0,448.0" fill="none" stroke="#e6eefa" stroke-width="2.6" />
<polygon points="260.0,397.5 292.5,381.0 303.0,386.0 272.5,404.0" fill="#eaf1fb" stroke="#eaf1fb" stroke-width="0.5" stroke-linejoin="round" />
<polygon points="260.0,397.5 272.5,404.0 272.5,417.0 260.0,411.0" fill="#dce8f8" stroke="#dce8f8" stroke-width="0.5" stroke-linejoin="round" />
<polygon points="272.5,404.0 303.0,386.0 303.0,401.0 272.5,417.5" fill="#a9c3ef" stroke="#a9c3ef" stroke-width="0.5" stroke-linejoin="round" />
</g>
<g transform="translate(0,0)">
<path d="M273.6 352 L273.6 394 A7.6 3.6 0 0 0 288.8 394 L288.8 352Z" fill="#2a8bd8"/>
<path d="M282 352 L282 397.4 A7.6 3.6 0 0 0 288.8 394 L288.8 352Z" fill="#1f78c8"/>
<ellipse cx="281" cy="354.5" rx="12.6" ry="6.2" fill="#2788d5"/>
<ellipse cx="281" cy="351.5" rx="12.6" ry="6.2" fill="#3198e2"/>
</g>
<line x1="360.6" y1="346" x2="360.6" y2="389" stroke="#5f9bd3" stroke-width="0.9"/>
<line x1="363.6" y1="346" x2="363.6" y2="389" stroke="#5f9bd3" stroke-width="0.9"/>
<line x1="366.5" y1="346" x2="366.5" y2="389" stroke="#5f9bd3" stroke-width="0.9"/>
<line x1="369.4" y1="346" x2="369.4" y2="389" stroke="#5f9bd3" stroke-width="0.9"/>
<polygon points="343.0,387.5 372.5,403.0 372.5,417.3 343.0,401.3" fill="#e98a1d" stroke="#e98a1d" stroke-width="0.5" stroke-linejoin="round" />
<polygon points="372.5,403.0 385.0,396.0 385.0,410.0 372.5,417.3" fill="#f4a030" stroke="#f4a030" stroke-width="0.5" stroke-linejoin="round" />
<polygon points="343.0,387.5 355.0,380.6 385.0,396.0 372.5,403.0" fill="#444953" stroke="#444953" stroke-width="0.5" stroke-linejoin="round" />
<polygon points="343.0,387.5 372.5,403.0 372.5,404.4 343.0,388.9" fill="#f3b45a" stroke="#f3b45a" stroke-width="0.5" stroke-linejoin="round" />
<ellipse cx="365.5" cy="391" rx="4.6" ry="3.3" fill="#2b96de"/>
<ellipse cx="365.5" cy="389.6" rx="4.6" ry="3.3" fill="#3aa6ea"/>
<g transform="translate(0,0)">
<ellipse cx="281" cy="354.8" rx="12.6" ry="6.2" fill="#2580cf"/>
<ellipse cx="281" cy="351.6" rx="12.6" ry="6.2" fill="#359de6"/>
</g>
<polyline points="308.8,245.0 345.6,236.0 350.8,320.0" fill="none" stroke="#33566f" stroke-width="1.25" />
<polyline points="345.6,236.0 325.0,281.0" fill="none" stroke="#33566f" stroke-width="1.0" />
<polyline points="345.6,236.0 328.5,281.0" fill="none" stroke="#33566f" stroke-width="1.0" />
<polygon points="257.0,279.5 306.5,243.0 310.0,249.0 263.0,283.8" fill="#2e93dd" stroke="#2e93dd" stroke-width="0.5" stroke-linejoin="round" />
<polygon points="263.0,283.8 310.0,249.0 310.6,251.8 264.0,286.4" fill="#2a83ca" stroke="#2a83ca" stroke-width="0.5" stroke-linejoin="round" />
<polygon points="243.8,276.6 257.0,269.8 264.5,274.4 251.3,281.6" fill="#3ba3ea" stroke="#3ba3ea" stroke-width="0.5" stroke-linejoin="round" />
<polygon points="243.8,276.6 251.3,281.6 251.3,283.8 243.8,278.8" fill="#2a83ca" stroke="#2a83ca" stroke-width="0.5" stroke-linejoin="round" />
<polygon points="251.3,281.6 264.5,274.4 264.5,276.6 251.3,283.8" fill="#2e93dd" stroke="#2e93dd" stroke-width="0.5" stroke-linejoin="round" />
<polygon points="252.8,278.5 259.5,282.5 262.0,304.5 256.3,300.0" fill="#2e93dd" stroke="#2e93dd" stroke-width="0.5" stroke-linejoin="round" />
<polygon points="259.5,282.5 265.0,279.5 268.5,300.5 262.0,304.5" fill="#2a83ca" stroke="#2a83ca" stroke-width="0.5" stroke-linejoin="round" />
<polygon points="243.6,301.1 255.3,295.0 302.0,319.9 287.8,326.0" fill="#3ba3ea" stroke="#3ba3ea" stroke-width="0.5" stroke-linejoin="round" />
<polygon points="243.6,301.1 287.8,326.0 287.8,350.0 257.5,336.5 257.5,329.0 243.6,321.0" fill="#2e93dd" stroke="#2e93dd" stroke-width="0.5" stroke-linejoin="round" />
<polygon points="287.8,326.0 302.0,319.9 302.0,343.0 287.8,350.0" fill="#2a83ca" stroke="#2a83ca" stroke-width="0.5" stroke-linejoin="round" />
<polygon points="255.8,296.0 261.5,299.5 262.0,304.5 256.3,300.0" fill="#2e93dd" stroke="#2e93dd" stroke-width="0.5" stroke-linejoin="round" />
<polygon points="261.5,299.5 268.0,296.0 268.5,300.5 262.0,304.5" fill="#2a83ca" stroke="#2a83ca" stroke-width="0.5" stroke-linejoin="round" />
<polygon points="245.2,309.8 249.2,311.9 249.2,317.2 245.2,315.1" fill="#1f64a8" stroke="#1f64a8" stroke-width="0.5" stroke-linejoin="round" />
<polygon points="252.2,313.6 256.6,315.9 256.6,321.2 252.2,318.9" fill="#1f64a8" stroke="#1f64a8" stroke-width="0.5" stroke-linejoin="round" />
<polygon points="303.0,335.0 310.5,338.5 310.5,351.0 303.0,347.5" fill="#2e93dd" stroke="#2e93dd" stroke-width="0.5" stroke-linejoin="round" />
<polygon points="310.5,338.5 317.3,335.0 317.3,347.5 310.5,351.0" fill="#2a83ca" stroke="#2a83ca" stroke-width="0.5" stroke-linejoin="round" />
<polygon points="303.0,335.0 309.8,331.5 317.3,335.0 310.5,338.5" fill="#3ba3ea" stroke="#3ba3ea" stroke-width="0.5" stroke-linejoin="round" />
<polygon points="312.6,339.6 315.3,338.2 315.3,344.2 312.6,345.6" fill="#1f64a8" stroke="#1f64a8" stroke-width="0.5" stroke-linejoin="round" />
<polygon points="322.6,281.5 327.0,279.5 330.0,284.5 309.5,334.0 302.0,339.0 295.0,337.5" fill="#2e93dd" stroke="#2e93dd" stroke-width="0.5" stroke-linejoin="round" />
<polygon points="326.5,283.5 330.0,284.5 309.5,334.0 304.0,337.5" fill="#2a83ca" stroke="#2a83ca" stroke-width="0.5" stroke-linejoin="round" />
<polygon points="304.0,246.0 308.0,242.0 313.0,243.5 362.5,329.0 353.0,334.0" fill="#2e93dd" stroke="#2e93dd" stroke-width="0.5" stroke-linejoin="round" />
<polygon points="309.0,248.5 313.0,243.5 362.5,329.0 358.0,331.5" fill="#2a83ca" stroke="#2a83ca" stroke-width="0.5" stroke-linejoin="round" />
<circle cx="308.8" cy="245.2" r="3.6" fill="#2e93dd"/>
<circle cx="307.8" cy="247.8" r="0.9" fill="#d9ecfb"/>
<circle cx="326.2" cy="282.2" r="0.9" fill="#d9ecfb"/>
<polygon points="341.0,333.5 360.0,321.5 376.7,331.5 363.0,343.0" fill="#7fc2f0" stroke="#7fc2f0" stroke-width="0.5" stroke-linejoin="round" />
<polygon points="342.5,333.5 360.0,322.8 374.8,331.5 363.0,341.4" fill="#3ba3ea" stroke="#3ba3ea" stroke-width="0.5" stroke-linejoin="round" />
<polygon points="341.0,333.5 363.0,343.0 363.0,345.2 341.0,335.6" fill="#2a83ca" stroke="#2a83ca" stroke-width="0.5" stroke-linejoin="round" />
<polygon points="363.0,343.0 376.7,331.5 376.7,333.6 363.0,345.2" fill="#2277c2" stroke="#2277c2" stroke-width="0.5" stroke-linejoin="round" />
<ellipse cx="357" cy="330.5" rx="6" ry="3.6" fill="#2e93dd"/>
<polygon points="363.0,343.5 369.5,338.0 369.5,342.5 363.0,348.0" fill="#2277c2" stroke="#2277c2" stroke-width="0.5" stroke-linejoin="round" />
<polygon points="359.0,341.8 363.0,343.5 363.0,348.0 359.0,346.3" fill="#2a83ca" stroke="#2a83ca" stroke-width="0.5" stroke-linejoin="round" />
<g transform="translate(277,75)">
<polyline points="289.0,411.5 322.5,432.5" fill="none" stroke="#e6eefa" stroke-width="3.2" />
<polyline points="318.0,427.0 324.0,436.0" fill="none" stroke="#e6eefa" stroke-width="4" />
<polyline points="297.0,403.0 303.0,420.0" fill="none" stroke="#e6eefa" stroke-width="2.2" />
<polyline points="301.0,401.0 318.0,428.5" fill="none" stroke="#e6eefa" stroke-width="2.4" />
<polyline points="243.0,422.0 292.0,452.0" fill="none" stroke="#e6eefa" stroke-width="3.6" />
<polyline points="243.5,425.0 291.0,454.5" fill="none" stroke="#d7e3f6" stroke-width="1.6" />
<polyline points="288.0,447.0 296.0,455.0" fill="none" stroke="#e6eefa" stroke-width="4.5" />
<polyline points="242.5,422.5 258.0,413.0" fill="none" stroke="#e6eefa" stroke-width="2.6" />
<polyline points="262.0,411.0 269.0,434.0" fill="none" stroke="#e6eefa" stroke-width="2.2" />
<polyline points="272.5,416.0 268.0,434.5" fill="none" stroke="#e6eefa" stroke-width="2.0" />
<polyline points="273.0,416.0 289.0,448.0" fill="none" stroke="#e6eefa" stroke-width="2.6" />
<polygon points="260.0,397.5 292.5,381.0 303.0,386.0 272.5,404.0" fill="#eaf1fb" stroke="#eaf1fb" stroke-width="0.5" stroke-linejoin="round" />
<polygon points="260.0,397.5 272.5,404.0 272.5,417.0 260.0,411.0" fill="#dce8f8" stroke="#dce8f8" stroke-width="0.5" stroke-linejoin="round" />
<polygon points="272.5,404.0 303.0,386.0 303.0,401.0 272.5,417.5" fill="#a9c3ef" stroke="#a9c3ef" stroke-width="0.5" stroke-linejoin="round" />
</g>
<g transform="translate(277,75)">
<path d="M273.6 352 L273.6 394 A7.6 3.6 0 0 0 288.8 394 L288.8 352Z" fill="#2a8bd8"/>
<path d="M282 352 L282 397.4 A7.6 3.6 0 0 0 288.8 394 L288.8 352Z" fill="#1f78c8"/>
<ellipse cx="281" cy="354.5" rx="12.6" ry="6.2" fill="#2788d5"/>
<ellipse cx="281" cy="351.5" rx="12.6" ry="6.2" fill="#3198e2"/>
</g>
<line x1="468.6" y1="422" x2="468.6" y2="504" stroke="#5f9bd3" stroke-width="0.9"/>
<line x1="471.4" y1="422" x2="471.4" y2="504" stroke="#5f9bd3" stroke-width="0.9"/>
<line x1="474.3" y1="422" x2="474.3" y2="504" stroke="#5f9bd3" stroke-width="0.9"/>
<line x1="477.2" y1="422" x2="477.2" y2="504" stroke="#5f9bd3" stroke-width="0.9"/>
<rect x="468.6" y="422" width="8.6" height="82" fill="#a9d2f1" opacity="0.45"/>
<g transform="translate(276.4,76)">
<ellipse cx="281" cy="354.8" rx="12.6" ry="6.2" fill="#2580cf"/>
<ellipse cx="281" cy="351.6" rx="12.6" ry="6.2" fill="#359de6"/>
</g>
<g transform="translate(838.2,76.25) scale(-1,1)"><polyline points="308.8,245.0 345.6,236.0 350.8,320.0" fill="none" stroke="#33566f" stroke-width="1.25" />
<polyline points="345.6,236.0 325.0,281.0" fill="none" stroke="#33566f" stroke-width="1.0" />
<polyline points="345.6,236.0 328.5,281.0" fill="none" stroke="#33566f" stroke-width="1.0" />
<polygon points="257.0,279.5 306.5,243.0 310.0,249.0 263.0,283.8" fill="#2e93dd" stroke="#2e93dd" stroke-width="0.5" stroke-linejoin="round" />
<polygon points="263.0,283.8 310.0,249.0 310.6,251.8 264.0,286.4" fill="#2a83ca" stroke="#2a83ca" stroke-width="0.5" stroke-linejoin="round" />
<polygon points="243.8,276.6 257.0,269.8 264.5,274.4 251.3,281.6" fill="#3ba3ea" stroke="#3ba3ea" stroke-width="0.5" stroke-linejoin="round" />
<polygon points="243.8,276.6 251.3,281.6 251.3,283.8 243.8,278.8" fill="#2a83ca" stroke="#2a83ca" stroke-width="0.5" stroke-linejoin="round" />
<polygon points="251.3,281.6 264.5,274.4 264.5,276.6 251.3,283.8" fill="#2e93dd" stroke="#2e93dd" stroke-width="0.5" stroke-linejoin="round" />
<polygon points="252.8,278.5 259.5,282.5 262.0,304.5 256.3,300.0" fill="#2e93dd" stroke="#2e93dd" stroke-width="0.5" stroke-linejoin="round" />
<polygon points="259.5,282.5 265.0,279.5 268.5,300.5 262.0,304.5" fill="#2a83ca" stroke="#2a83ca" stroke-width="0.5" stroke-linejoin="round" />
<polygon points="243.6,301.1 255.3,295.0 302.0,319.9 287.8,326.0" fill="#3ba3ea" stroke="#3ba3ea" stroke-width="0.5" stroke-linejoin="round" />
<polygon points="243.6,301.1 287.8,326.0 287.8,350.0 257.5,336.5 257.5,329.0 243.6,321.0" fill="#2e93dd" stroke="#2e93dd" stroke-width="0.5" stroke-linejoin="round" />
<polygon points="287.8,326.0 302.0,319.9 302.0,343.0 287.8,350.0" fill="#2a83ca" stroke="#2a83ca" stroke-width="0.5" stroke-linejoin="round" />
<polygon points="255.8,296.0 261.5,299.5 262.0,304.5 256.3,300.0" fill="#2e93dd" stroke="#2e93dd" stroke-width="0.5" stroke-linejoin="round" />
<polygon points="261.5,299.5 268.0,296.0 268.5,300.5 262.0,304.5" fill="#2a83ca" stroke="#2a83ca" stroke-width="0.5" stroke-linejoin="round" />
<polygon points="245.2,309.8 249.2,311.9 249.2,317.2 245.2,315.1" fill="#1f64a8" stroke="#1f64a8" stroke-width="0.5" stroke-linejoin="round" />
<polygon points="252.2,313.6 256.6,315.9 256.6,321.2 252.2,318.9" fill="#1f64a8" stroke="#1f64a8" stroke-width="0.5" stroke-linejoin="round" />
<polygon points="303.0,335.0 310.5,338.5 310.5,351.0 303.0,347.5" fill="#2e93dd" stroke="#2e93dd" stroke-width="0.5" stroke-linejoin="round" />
<polygon points="310.5,338.5 317.3,335.0 317.3,347.5 310.5,351.0" fill="#2a83ca" stroke="#2a83ca" stroke-width="0.5" stroke-linejoin="round" />
<polygon points="303.0,335.0 309.8,331.5 317.3,335.0 310.5,338.5" fill="#3ba3ea" stroke="#3ba3ea" stroke-width="0.5" stroke-linejoin="round" />
<polygon points="312.6,339.6 315.3,338.2 315.3,344.2 312.6,345.6" fill="#1f64a8" stroke="#1f64a8" stroke-width="0.5" stroke-linejoin="round" />
<polygon points="322.6,281.5 327.0,279.5 330.0,284.5 309.5,334.0 302.0,339.0 295.0,337.5" fill="#2e93dd" stroke="#2e93dd" stroke-width="0.5" stroke-linejoin="round" />
<polygon points="326.5,283.5 330.0,284.5 309.5,334.0 304.0,337.5" fill="#2a83ca" stroke="#2a83ca" stroke-width="0.5" stroke-linejoin="round" />
<polygon points="304.0,246.0 308.0,242.0 313.0,243.5 362.5,329.0 353.0,334.0" fill="#2e93dd" stroke="#2e93dd" stroke-width="0.5" stroke-linejoin="round" />
<polygon points="309.0,248.5 313.0,243.5 362.5,329.0 358.0,331.5" fill="#2a83ca" stroke="#2a83ca" stroke-width="0.5" stroke-linejoin="round" />
<circle cx="308.8" cy="245.2" r="3.6" fill="#2e93dd"/>
<circle cx="307.8" cy="247.8" r="0.9" fill="#d9ecfb"/>
<circle cx="326.2" cy="282.2" r="0.9" fill="#d9ecfb"/>
<polygon points="341.0,333.5 360.0,321.5 376.7,331.5 363.0,343.0" fill="#7fc2f0" stroke="#7fc2f0" stroke-width="0.5" stroke-linejoin="round" />
<polygon points="342.5,333.5 360.0,322.8 374.8,331.5 363.0,341.4" fill="#3ba3ea" stroke="#3ba3ea" stroke-width="0.5" stroke-linejoin="round" />
<polygon points="341.0,333.5 363.0,343.0 363.0,345.2 341.0,335.6" fill="#2a83ca" stroke="#2a83ca" stroke-width="0.5" stroke-linejoin="round" />
<polygon points="363.0,343.0 376.7,331.5 376.7,333.6 363.0,345.2" fill="#2277c2" stroke="#2277c2" stroke-width="0.5" stroke-linejoin="round" />
<ellipse cx="357" cy="330.5" rx="6" ry="3.6" fill="#2e93dd"/>
<polygon points="363.0,343.5 369.5,338.0 369.5,342.5 363.0,348.0" fill="#2277c2" stroke="#2277c2" stroke-width="0.5" stroke-linejoin="round" />
<polygon points="359.0,341.8 363.0,343.5 363.0,348.0 359.0,346.3" fill="#2a83ca" stroke="#2a83ca" stroke-width="0.5" stroke-linejoin="round" /></g>
<polygon points="606.0,590.0 646.0,568.0 652.0,572.0 612.0,594.0" fill="#a3c0ea" stroke="#a3c0ea" stroke-width="0.5" stroke-linejoin="round" />
<polygon points="558.0,544.0 585.6,560.6 585.6,574.5 558.0,559.0" fill="#ee9120" stroke="#ee9120" stroke-width="0.5" stroke-linejoin="round" />
<polygon points="585.6,560.6 600.0,553.5 600.0,566.5 585.6,574.5" fill="#e28718" stroke="#e28718" stroke-width="0.5" stroke-linejoin="round" />
<polygon points="558.0,544.0 572.5,537.0 600.0,553.5 585.6,560.6" fill="#f8a52c" stroke="#f8a52c" stroke-width="0.5" stroke-linejoin="round" />
<polygon points="598.0,572.0 626.0,556.0 643.0,566.0 615.0,583.0" fill="#3ba3ea" stroke="#3ba3ea" stroke-width="0.5" stroke-linejoin="round" />
<polygon points="598.0,572.0 615.0,583.0 615.0,590.0 598.0,579.0" fill="#2e93dd" stroke="#2e93dd" stroke-width="0.5" stroke-linejoin="round" />
<polygon points="615.0,583.0 643.0,566.0 643.0,573.0 615.0,590.0" fill="#2a83ca" stroke="#2a83ca" stroke-width="0.5" stroke-linejoin="round" />
<polygon points="593.3,540.0 597.4,538.6 627.0,546.2 626.0,551.0 599.0,544.8 597.0,549.4 594.0,548.0" fill="#2e93dd" stroke="#2e93dd" stroke-width="0.5" stroke-linejoin="round" />
<polyline points="584.0,542.0 595.0,548.0" fill="none" stroke="#47505c" stroke-width="1.2" />
<polygon points="608.0,562.0 612.0,551.0 628.0,546.0 634.0,549.5 634.0,562.0 620.0,571.0" fill="#2c4f7e" stroke="#2c4f7e" stroke-width="0.5" stroke-linejoin="round" />
<polygon points="611.5,561.0 614.0,553.5 621.0,557.5 620.0,566.5" fill="#5d8cc4" stroke="#5d8cc4" stroke-width="0.5" stroke-linejoin="round" />
<polygon points="622.0,557.0 631.0,552.0 631.0,560.5 622.0,566.0" fill="#4a7ab5" stroke="#4a7ab5" stroke-width="0.5" stroke-linejoin="round" />
<polygon points="625.0,546.5 629.0,544.5 636.0,548.5 634.0,551.0" fill="#3f4652" stroke="#3f4652" stroke-width="0.5" stroke-linejoin="round" />
<ellipse cx="615.5" cy="579" rx="5.2" ry="6" fill="#17407a" transform="rotate(25 615.5 579)"/>
<ellipse cx="616.3" cy="579.2" rx="2.6" ry="3.2" fill="#dfeaf8" transform="rotate(25 615.5 579)"/>
<ellipse cx="637.8" cy="564.5" rx="5.2" ry="6" fill="#17407a" transform="rotate(25 637.8 564.5)"/>
<ellipse cx="638.5999999999999" cy="564.7" rx="2.6" ry="3.2" fill="#dfeaf8" transform="rotate(25 637.8 564.5)"/>
<defs>
<g id="drat">
<path d="M1.0 -0.5 C-0.6 -0.1 -6.0 0.7 -8.8 2.0 C-11.6 3.3 -14.2 5.4 -15.6 7.4 C-16.9 9.4 -17.5 12.4 -16.9 14.2 C-16.3 16.0 -14.7 17.9 -12.2 18.3 C-9.7 18.8 -4.8 17.7 -2.0 16.9 C0.8 16.1 2.8 13.8 4.7 13.5 C6.6 13.2 8.7 14.7 9.5 14.9" fill="none" stroke="#d6e4f5" stroke-width="4" stroke-linecap="round" opacity="0.7"/>
<path d="M0.0 0.0 C-1.1 -1.7 0.6 -6.4 1.4 -9.5 C2.2 -12.6 3.0 -15.7 4.7 -18.3 C6.4 -20.9 9.0 -23.3 11.5 -25.0 C14.0 -26.7 16.8 -27.9 19.6 -28.4 C22.4 -28.9 26.0 -28.8 28.4 -27.8 C30.8 -26.8 32.2 -24.2 33.9 -22.3 C35.6 -20.4 36.9 -18.0 38.6 -16.2 C40.3 -14.4 42.3 -13.3 44.0 -11.5 C45.7 -9.7 47.7 -7.0 48.7 -5.4 C49.7 -3.8 50.7 -2.9 50.1 -2.0 C49.5 -1.1 46.9 -0.5 45.4 0.0 C43.9 0.5 42.1 -0.1 41.3 0.7 C40.5 1.5 41.5 4.2 40.6 4.7 C39.7 5.2 37.4 4.1 35.9 3.4 C34.4 2.7 33.6 1.3 31.8 0.7 C30.0 0.1 26.2 -0.2 25.0 0.0 C23.8 0.2 25.6 1.7 24.4 2.0 C23.2 2.3 18.9 2.3 17.6 2.0 C16.4 1.7 18.5 0.2 16.9 0.0 C15.3 -0.2 10.8 0.5 8.0 0.5 C5.2 0.5 1.1 1.7 0.0 0.0Z" fill="#d6e4f5" stroke="#d6e4f5" stroke-width="2" opacity="0.7"/>
<path d="M1.0 -0.5 C-0.6 -0.1 -6.0 0.7 -8.8 2.0 C-11.6 3.3 -14.2 5.4 -15.6 7.4 C-16.9 9.4 -17.5 12.4 -16.9 14.2 C-16.3 16.0 -14.7 17.9 -12.2 18.3 C-9.7 18.8 -4.8 17.7 -2.0 16.9 C0.8 16.1 2.8 13.8 4.7 13.5 C6.6 13.2 8.7 14.7 9.5 14.9" fill="none" stroke="#625b5c" stroke-width="2.8" stroke-linecap="round"/>
<path d="M0.0 0.0 C-1.1 -1.7 0.6 -6.4 1.4 -9.5 C2.2 -12.6 3.0 -15.7 4.7 -18.3 C6.4 -20.9 9.0 -23.3 11.5 -25.0 C14.0 -26.7 16.8 -27.9 19.6 -28.4 C22.4 -28.9 26.0 -28.8 28.4 -27.8 C30.8 -26.8 32.2 -24.2 33.9 -22.3 C35.6 -20.4 36.9 -18.0 38.6 -16.2 C40.3 -14.4 42.3 -13.3 44.0 -11.5 C45.7 -9.7 47.7 -7.0 48.7 -5.4 C49.7 -3.8 50.7 -2.9 50.1 -2.0 C49.5 -1.1 46.9 -0.5 45.4 0.0 C43.9 0.5 42.1 -0.1 41.3 0.7 C40.5 1.5 41.5 4.2 40.6 4.7 C39.7 5.2 37.4 4.1 35.9 3.4 C34.4 2.7 33.6 1.3 31.8 0.7 C30.0 0.1 26.2 -0.2 25.0 0.0 C23.8 0.2 25.6 1.7 24.4 2.0 C23.2 2.3 18.9 2.3 17.6 2.0 C16.4 1.7 18.5 0.2 16.9 0.0 C15.3 -0.2 10.8 0.5 8.0 0.5 C5.2 0.5 1.1 1.7 0.0 0.0Z" fill="#5b5657"/>
<ellipse cx="21" cy="-17" rx="11" ry="8" fill="#4c4849" opacity="0.75"/>
<ellipse cx="11" cy="-8" rx="7.5" ry="6.5" fill="#6c6563" opacity="0.55"/>
<ellipse cx="30" cy="-6" rx="6" ry="4" fill="#6a6361" opacity="0.5"/>
<ellipse cx="15" cy="-21" rx="6" ry="3" fill="#6f6866" opacity="0.4" transform="rotate(-35 15 -21)"/>
<ellipse cx="41.5" cy="-7" rx="5.5" ry="3.6" fill="#474344" opacity="0.8"/>
<path d="M6 -6 Q8 -18 17 -25 M10 -3 Q12 -16 22 -25 M16 -3 Q17 -14 27 -24 M22 -3 Q24 -12 31 -20 M28 -3 Q30 -9 36 -14 M4 -12 Q8 -20 13 -24" stroke="#3f3b3c" stroke-width="0.9" fill="none" opacity="0.45" stroke-linecap="round"/>
<path d="M8 -5 Q10 -17 19 -26 M13 -3 Q15 -15 25 -25 M19 -3 Q21 -13 29 -22 M25 -3 Q27 -10 33 -17" stroke="#7a726f" stroke-width="0.7" fill="none" opacity="0.4" stroke-linecap="round"/>
<ellipse cx="33.9" cy="-10.8" rx="3.6" ry="3.9" fill="#b39d97"/>
<ellipse cx="34.3" cy="-10.6" rx="2.2" ry="2.6" fill="#cdb6ae"/>
<circle cx="43" cy="-6.8" r="1" fill="#1c1a1b"/>
<path d="M36.5 1.2 L41.5 0 L42.5 3 L40.5 5 L37 3.6Z" fill="#d9d3d0"/>
<rect x="17.2" y="0.2" width="7.4" height="2" fill="#9a8f8c"/>
<path d="M48.5 -3 L54 -8 M49 -2.5 L55.5 -4 M48.5 -1.5 L54 1.5 M47 -1 L51 4" stroke="#8d93a0" stroke-width="0.5" fill="none" opacity="0.8"/>
</g>
<g id="brat">
<path d="M0.0 0.0 C-1.0 -1.4 -1.0 -4.5 -0.7 -6.8 C-0.4 -9.1 0.8 -11.2 2.0 -13.5 C3.2 -15.8 4.9 -18.5 6.8 -20.3 C8.7 -22.1 11.0 -23.4 13.5 -24.4 C16.0 -25.4 19.1 -26.1 21.7 -26.4 C24.3 -26.7 27.3 -25.9 29.1 -26.1 C30.9 -26.3 31.0 -27.8 32.5 -27.8 C34.0 -27.8 36.4 -26.8 37.9 -26.1 C39.4 -25.4 40.2 -23.9 41.3 -23.7 C42.4 -23.5 43.2 -24.7 44.7 -25.0 C46.2 -25.3 48.2 -25.5 50.1 -25.4 C52.0 -25.3 55.1 -24.9 56.2 -24.4 C57.3 -23.9 57.2 -23.4 56.9 -22.3 C56.6 -21.2 55.3 -19.2 54.2 -17.6 C53.1 -16.0 51.5 -14.5 50.1 -12.9 C48.7 -11.3 47.4 -9.8 46.0 -8.1 C44.6 -6.4 42.9 -4.0 42.0 -2.7 C41.1 -1.4 39.7 -0.8 40.6 0.0 C41.5 0.8 47.4 1.6 47.4 2.0 C47.4 2.5 42.8 2.9 40.6 2.7 C38.5 2.5 36.6 1.1 34.5 0.7 C32.4 0.2 29.9 -0.1 27.8 0.0 C25.7 0.1 24.1 1.1 21.7 1.4 C19.3 1.7 16.2 2.0 13.5 2.0 C10.8 2.0 7.7 1.7 5.4 1.4 C3.2 1.1 1.0 1.4 0.0 0.0Z" fill="#d6e4f5" stroke="#d6e4f5" stroke-width="1.6" opacity="0.6"/>
<path d="M1.0 -0.5 C-0.8 -0.3 -6.4 0.3 -9.5 0.7 C-12.6 1.1 -15.6 1.3 -17.6 2.0 C-19.6 2.7 -21.4 3.9 -21.7 4.7 C-22.0 5.5 -20.9 6.3 -19.6 6.8 C-18.4 7.3 -15.1 7.6 -14.2 7.8" fill="none" stroke="#e3bbb1" stroke-width="1.7" stroke-linecap="round"/>
<path d="M0.0 0.0 C-1.0 -1.4 -1.0 -4.5 -0.7 -6.8 C-0.4 -9.1 0.8 -11.2 2.0 -13.5 C3.2 -15.8 4.9 -18.5 6.8 -20.3 C8.7 -22.1 11.0 -23.4 13.5 -24.4 C16.0 -25.4 19.1 -26.1 21.7 -26.4 C24.3 -26.7 27.3 -25.9 29.1 -26.1 C30.9 -26.3 31.0 -27.8 32.5 -27.8 C34.0 -27.8 36.4 -26.8 37.9 -26.1 C39.4 -25.4 40.2 -23.9 41.3 -23.7 C42.4 -23.5 43.2 -24.7 44.7 -25.0 C46.2 -25.3 48.2 -25.5 50.1 -25.4 C52.0 -25.3 55.1 -24.9 56.2 -24.4 C57.3 -23.9 57.2 -23.4 56.9 -22.3 C56.6 -21.2 55.3 -19.2 54.2 -17.6 C53.1 -16.0 51.5 -14.5 50.1 -12.9 C48.7 -11.3 47.4 -9.8 46.0 -8.1 C44.6 -6.4 42.9 -4.0 42.0 -2.7 C41.1 -1.4 39.7 -0.8 40.6 0.0 C41.5 0.8 47.4 1.6 47.4 2.0 C47.4 2.5 42.8 2.9 40.6 2.7 C38.5 2.5 36.6 1.1 34.5 0.7 C32.4 0.2 29.9 -0.1 27.8 0.0 C25.7 0.1 24.1 1.1 21.7 1.4 C19.3 1.7 16.2 2.0 13.5 2.0 C10.8 2.0 7.7 1.7 5.4 1.4 C3.2 1.1 1.0 1.4 0.0 0.0Z" fill="#b39a79"/>
<path d="M29.5 -25.5 Q33 -29 38.5 -25.5 Q40 -20 38.5 -17 Q33 -17 31 -21 Z" fill="#e2b6a8"/>
<path d="M43 -25 L44 -29 L46.6 -28.2 L46.4 -24.6Z" fill="#6c6b78"/>
<circle cx="46.1" cy="-22.3" r="1" fill="#2a1d17"/>
<path d="M40.6 0.5 L47.4 2 L40.6 2.7 Z" fill="#ddb9ad"/>
</g>
</defs>
<use href="#brat" transform="translate(311.0,483.0) scale(1.000)"/>
<use href="#brat" transform="translate(398.5,452.0) scale(0.870)"/>
<use href="#brat" transform="translate(639.8,595.6) scale(1.000)"/>
<use href="#brat" transform="translate(478.5,686.0) scale(1.080)"/>
<use href="#drat" transform="translate(199.0,395.0) scale(1.000)"/>
<use href="#drat" transform="translate(93.8,495.0) scale(1.020)"/>
<use href="#drat" transform="translate(565.0,639.0) scale(1.040)"/>
<use href="#drat" transform="translate(496.3,587.5) scale(1.050)"/>
</g>
<text x="887.5" y="631.7" font-size="20.5" fill="#555" font-weight="normal" text-anchor="start" textLength="26.3" lengthAdjust="spacingAndGlyphs" >0%</text>
<text x="876.3" y="586.0" font-size="20.5" fill="#555" font-weight="normal" text-anchor="start" textLength="37.5" lengthAdjust="spacingAndGlyphs" >10%</text>
<text x="876.3" y="540.3" font-size="20.5" fill="#555" font-weight="normal" text-anchor="start" textLength="37.5" lengthAdjust="spacingAndGlyphs" >20%</text>
<text x="876.3" y="494.6" font-size="20.5" fill="#555" font-weight="normal" text-anchor="start" textLength="37.5" lengthAdjust="spacingAndGlyphs" >30%</text>
<text x="876.3" y="448.9" font-size="20.5" fill="#555" font-weight="normal" text-anchor="start" textLength="37.5" lengthAdjust="spacingAndGlyphs" >40%</text>
<text x="876.3" y="403.2" font-size="20.5" fill="#555" font-weight="normal" text-anchor="start" textLength="37.5" lengthAdjust="spacingAndGlyphs" >50%</text>
<text x="876.3" y="357.5" font-size="20.5" fill="#555" font-weight="normal" text-anchor="start" textLength="37.5" lengthAdjust="spacingAndGlyphs" >60%</text>
<text x="876.3" y="311.8" font-size="20.5" fill="#555" font-weight="normal" text-anchor="start" textLength="37.5" lengthAdjust="spacingAndGlyphs" >70%</text>
<text x="876.3" y="266.1" font-size="20.5" fill="#555" font-weight="normal" text-anchor="start" textLength="37.5" lengthAdjust="spacingAndGlyphs" >80%</text>
<rect x="935" y="623.6" width="780" height="1.3" fill="#d4d4d4"/>
<rect x="973.6" y="278.2" width="34.6" height="346.0" fill="#f2b90c"/>
<rect x="1017.0" y="405.0" width="36.3" height="219.2" fill="#fb6868"/>
<rect x="1129.5" y="348.8" width="34.8" height="275.4" fill="#f2b90c"/>
<rect x="1173.2" y="361.7" width="36.1" height="262.5" fill="#fb6868"/>
<rect x="1285.4" y="573.2" width="34.8" height="51.0" fill="#f2b90c"/>
<rect x="1329.4" y="542.4" width="35.8" height="81.8" fill="#fb6868"/>
<rect x="1441.4" y="618.2" width="34.9" height="6.0" fill="#f2b90c"/>
<rect x="1485.2" y="598.0" width="36.1" height="26.2" fill="#fb6868"/>
<rect x="1597.0" y="612.0" width="35.0" height="12.2" fill="#f2b90c"/>
<rect x="1641.2" y="615.3" width="36.1" height="8.9" fill="#fb6868"/>
<text x="950.0" y="659.3" font-size="18.5" fill="#303030" font-weight="normal" text-anchor="start" textLength="126.3" lengthAdjust="spacingAndGlyphs" >Bromadiolone</text>
<text x="1112.0" y="659.3" font-size="18.5" fill="#303030" font-weight="normal" text-anchor="start" textLength="114.3" lengthAdjust="spacingAndGlyphs" >Brodifacoum</text>
<text x="1271.3" y="659.3" font-size="18.5" fill="#303030" font-weight="normal" text-anchor="start" textLength="107.0" lengthAdjust="spacingAndGlyphs" >Difenacoum</text>
<text x="1426.5" y="659.3" font-size="18.5" fill="#303030" font-weight="normal" text-anchor="start" textLength="109.3" lengthAdjust="spacingAndGlyphs" >Difethialone</text>
<text x="1579.5" y="659.3" font-size="18.5" fill="#303030" font-weight="normal" text-anchor="start" textLength="115.5" lengthAdjust="spacingAndGlyphs" >Flocoumafen</text>
<text x="1030.0" y="291.3" font-size="30" fill="#111" font-weight="normal" text-anchor="start" textLength="630.5" lengthAdjust="spacingAndGlyphs" >% of Rats with hepatic bioaccumulation of AR</text>
<text x="1287.0" y="332.5" font-size="30" fill="#111" font-weight="normal" text-anchor="start" textLength="116.3" lengthAdjust="spacingAndGlyphs" >residues</text>
<rect x="1170" y="695.8" width="12.5" height="12.5" fill="#f2b90c"/>
<text x="1188.8" y="708.3" font-size="18.5" fill="#303030" font-weight="normal" text-anchor="start" textLength="55.5" lengthAdjust="spacingAndGlyphs" >Lisbon</text>
<rect x="1267.8" y="695.8" width="13.2" height="12.5" fill="#fb6868"/>
<text x="1286.5" y="708.3" font-size="18.5" fill="#303030" font-weight="normal" text-anchor="start" textLength="128.8" lengthAdjust="spacingAndGlyphs" >Ponta Delgada</text>
<text x="610.0" y="716.3" font-size="22.5" fill="#151515" font-weight="normal" text-anchor="start" textLength="94.7" lengthAdjust="spacingAndGlyphs" >Seaports</text>
<text x="70.2" y="837.8" font-size="26.5" fill="#767676" font-weight="normal" text-anchor="start" textLength="616.6" lengthAdjust="spacingAndGlyphs" >Rats lacked resistance-conferring mutations in</text>
<text x="205.0" y="878.3" font-size="26.5" fill="#767676" font-weight="normal" text-anchor="start" textLength="347.0" lengthAdjust="spacingAndGlyphs" >exon 3 of the Vkorc1 gene</text>
</svg>
</body></html>
